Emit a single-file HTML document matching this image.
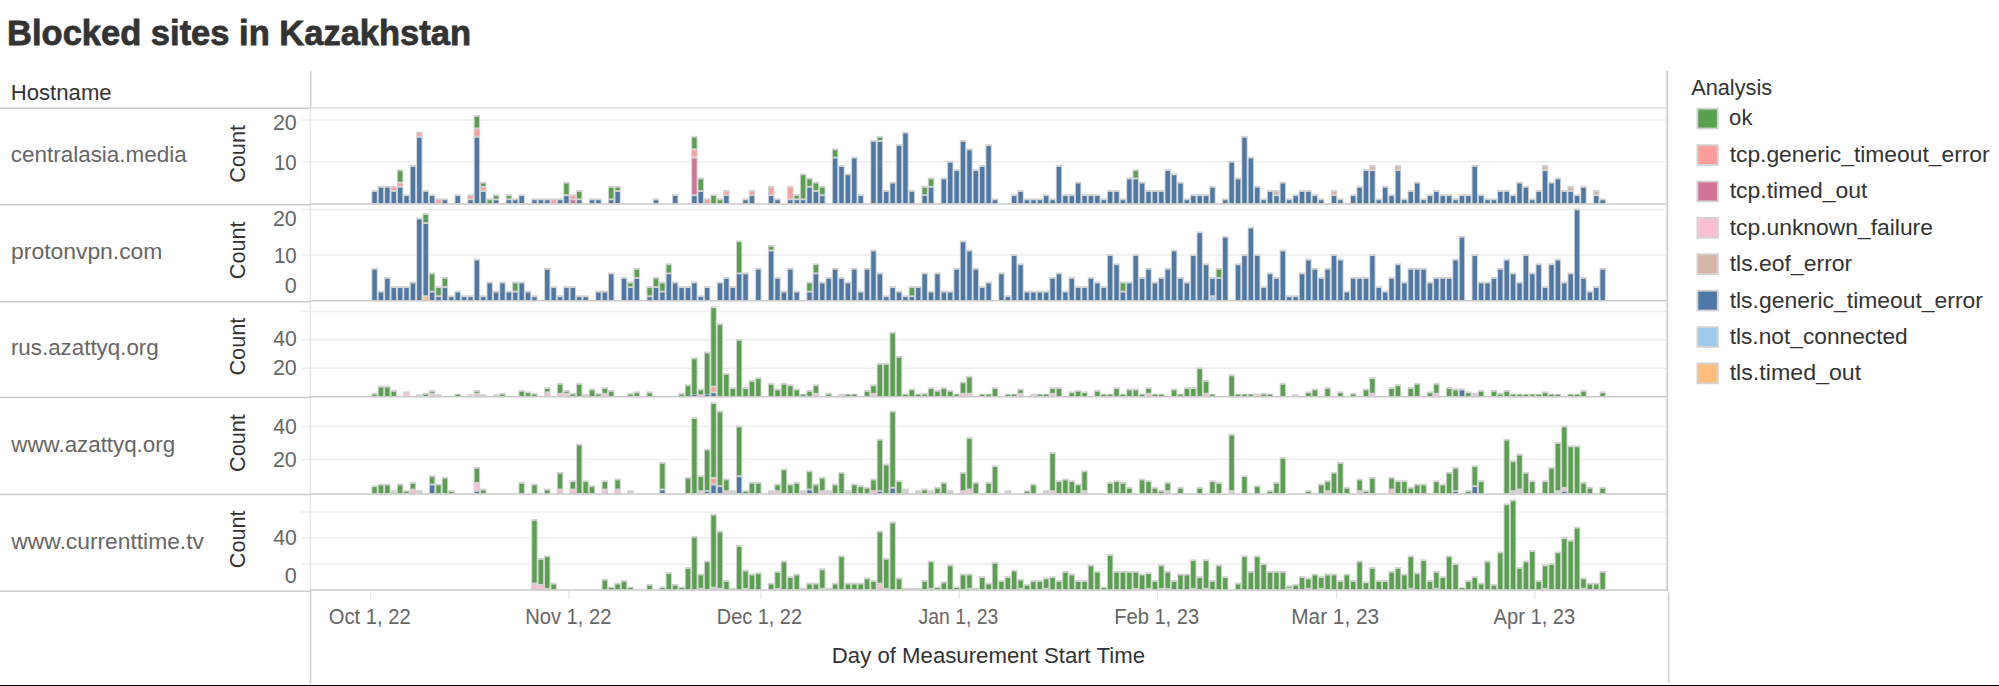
<!DOCTYPE html>
<html><head><meta charset="utf-8"><title>Blocked sites in Kazakhstan</title>
<style>
html,body{margin:0;padding:0;background:#fff;}
body{width:1999px;height:686px;overflow:hidden;font-family:"Liberation Sans",sans-serif;}
svg{display:block;}
</style></head><body>
<svg width="1999" height="686" viewBox="0 0 1999 686">
<rect x="0" y="0" width="1999" height="686" fill="#ffffff"/>
<text x="7.11" y="45.30" font-family="Liberation Sans, sans-serif" font-weight="bold" font-size="35" fill="#333333" textLength="463.90" lengthAdjust="spacingAndGlyphs" stroke="#333333" stroke-width="0.8">Blocked sites in Kazakhstan</text>
<text x="10.73" y="100.20" font-family="Liberation Sans, sans-serif" font-size="22" fill="#333333" textLength="100.93" lengthAdjust="spacingAndGlyphs">Hostname</text>
<line x1="301" y1="161.80" x2="1666.5" y2="161.80" stroke="#eeeeee" stroke-width="1.5"/>
<line x1="301" y1="120.10" x2="1666.5" y2="120.10" stroke="#eeeeee" stroke-width="1.5"/>
<line x1="301" y1="255.10" x2="1666.5" y2="255.10" stroke="#eeeeee" stroke-width="1.5"/>
<line x1="301" y1="209.40" x2="1666.5" y2="209.40" stroke="#eeeeee" stroke-width="1.5"/>
<line x1="301" y1="368.20" x2="1666.5" y2="368.20" stroke="#eeeeee" stroke-width="1.5"/>
<line x1="301" y1="339.80" x2="1666.5" y2="339.80" stroke="#eeeeee" stroke-width="1.5"/>
<line x1="301" y1="311.40" x2="1666.5" y2="311.40" stroke="#eeeeee" stroke-width="1.5"/>
<line x1="301" y1="459.60" x2="1666.5" y2="459.60" stroke="#eeeeee" stroke-width="1.5"/>
<line x1="301" y1="426.40" x2="1666.5" y2="426.40" stroke="#eeeeee" stroke-width="1.5"/>
<line x1="301" y1="564.10" x2="1666.5" y2="564.10" stroke="#eeeeee" stroke-width="1.5"/>
<line x1="301" y1="538.10" x2="1666.5" y2="538.10" stroke="#eeeeee" stroke-width="1.5"/>
<line x1="301" y1="512.10" x2="1666.5" y2="512.10" stroke="#eeeeee" stroke-width="1.5"/>
<rect x="371.35" y="190.04" width="6.40" height="13.86" fill="#d2d2d2"/>
<rect x="372.35" y="191.94" width="4.40" height="11.21" fill="#4E79A7"/>
<rect x="377.75" y="185.87" width="6.40" height="18.03" fill="#d2d2d2"/>
<rect x="378.75" y="187.77" width="4.40" height="15.38" fill="#4E79A7"/>
<rect x="384.14" y="185.87" width="6.40" height="18.03" fill="#d2d2d2"/>
<rect x="385.14" y="187.77" width="4.40" height="15.38" fill="#4E79A7"/>
<rect x="390.54" y="185.87" width="6.40" height="18.03" fill="#d2d2d2"/>
<rect x="391.54" y="191.94" width="4.40" height="11.21" fill="#4E79A7"/>
<rect x="391.54" y="187.77" width="4.40" height="2.27" fill="#FF9D9A"/>
<rect x="396.94" y="169.19" width="6.40" height="34.71" fill="#d2d2d2"/>
<rect x="397.94" y="187.77" width="4.40" height="15.38" fill="#4E79A7"/>
<rect x="397.94" y="183.60" width="4.40" height="2.27" fill="#FF9D9A"/>
<rect x="397.94" y="171.09" width="4.40" height="10.61" fill="#59A14F"/>
<rect x="403.33" y="194.21" width="6.40" height="9.69" fill="#d2d2d2"/>
<rect x="404.33" y="196.11" width="4.40" height="7.04" fill="#4E79A7"/>
<rect x="409.73" y="165.02" width="6.40" height="38.88" fill="#d2d2d2"/>
<rect x="410.73" y="166.92" width="4.40" height="36.23" fill="#4E79A7"/>
<rect x="416.12" y="131.66" width="6.40" height="72.24" fill="#d2d2d2"/>
<rect x="417.12" y="137.73" width="4.40" height="65.42" fill="#4E79A7"/>
<rect x="417.12" y="133.56" width="4.40" height="2.27" fill="#FF9D9A"/>
<rect x="422.52" y="190.04" width="6.40" height="13.86" fill="#d2d2d2"/>
<rect x="423.52" y="191.94" width="4.40" height="11.21" fill="#4E79A7"/>
<rect x="428.92" y="194.21" width="6.40" height="9.69" fill="#d2d2d2"/>
<rect x="429.92" y="196.11" width="4.40" height="7.04" fill="#4E79A7"/>
<rect x="435.31" y="198.38" width="6.40" height="5.52" fill="#d2d2d2"/>
<rect x="436.31" y="200.28" width="4.40" height="2.87" fill="#FF9D9A"/>
<rect x="441.71" y="198.38" width="6.40" height="5.52" fill="#d2d2d2"/>
<rect x="442.71" y="200.28" width="4.40" height="2.87" fill="#4E79A7"/>
<rect x="454.50" y="194.21" width="6.40" height="9.69" fill="#d2d2d2"/>
<rect x="455.50" y="196.11" width="4.40" height="7.04" fill="#4E79A7"/>
<rect x="467.30" y="194.21" width="6.40" height="9.69" fill="#d2d2d2"/>
<rect x="468.30" y="200.28" width="4.40" height="2.87" fill="#4E79A7"/>
<rect x="468.30" y="196.11" width="4.40" height="2.27" fill="#FF9D9A"/>
<rect x="473.69" y="114.98" width="6.40" height="88.92" fill="#d2d2d2"/>
<rect x="474.69" y="137.73" width="4.40" height="65.42" fill="#4E79A7"/>
<rect x="474.69" y="129.39" width="4.40" height="6.44" fill="#FF9D9A"/>
<rect x="474.69" y="116.88" width="4.40" height="10.61" fill="#59A14F"/>
<rect x="480.09" y="181.70" width="6.40" height="22.20" fill="#d2d2d2"/>
<rect x="481.09" y="191.94" width="4.40" height="11.21" fill="#4E79A7"/>
<rect x="481.09" y="187.77" width="4.40" height="2.27" fill="#FF9D9A"/>
<rect x="481.09" y="183.60" width="4.40" height="2.27" fill="#59A14F"/>
<rect x="486.49" y="198.38" width="6.40" height="5.52" fill="#d2d2d2"/>
<rect x="487.49" y="200.28" width="4.40" height="2.87" fill="#59A14F"/>
<rect x="492.88" y="194.21" width="6.40" height="9.69" fill="#d2d2d2"/>
<rect x="493.88" y="200.28" width="4.40" height="2.87" fill="#4E79A7"/>
<rect x="493.88" y="196.11" width="4.40" height="2.27" fill="#59A14F"/>
<rect x="505.67" y="194.21" width="6.40" height="9.69" fill="#d2d2d2"/>
<rect x="506.67" y="200.28" width="4.40" height="2.87" fill="#4E79A7"/>
<rect x="506.67" y="196.11" width="4.40" height="2.27" fill="#59A14F"/>
<rect x="512.07" y="198.38" width="6.40" height="5.52" fill="#d2d2d2"/>
<rect x="513.07" y="200.28" width="4.40" height="2.87" fill="#4E79A7"/>
<rect x="518.47" y="194.21" width="6.40" height="9.69" fill="#d2d2d2"/>
<rect x="519.47" y="196.11" width="4.40" height="7.04" fill="#4E79A7"/>
<rect x="531.26" y="198.38" width="6.40" height="5.52" fill="#d2d2d2"/>
<rect x="532.26" y="200.28" width="4.40" height="2.87" fill="#4E79A7"/>
<rect x="537.66" y="198.38" width="6.40" height="5.52" fill="#d2d2d2"/>
<rect x="538.66" y="200.28" width="4.40" height="2.87" fill="#4E79A7"/>
<rect x="544.05" y="198.38" width="6.40" height="5.52" fill="#d2d2d2"/>
<rect x="545.05" y="200.28" width="4.40" height="2.87" fill="#4E79A7"/>
<rect x="550.45" y="198.38" width="6.40" height="5.52" fill="#d2d2d2"/>
<rect x="551.45" y="200.28" width="4.40" height="2.87" fill="#FF9D9A"/>
<rect x="556.85" y="198.38" width="6.40" height="5.52" fill="#d2d2d2"/>
<rect x="557.85" y="200.28" width="4.40" height="2.87" fill="#4E79A7"/>
<rect x="563.24" y="181.70" width="6.40" height="22.20" fill="#d2d2d2"/>
<rect x="564.24" y="196.11" width="4.40" height="7.04" fill="#4E79A7"/>
<rect x="564.24" y="183.60" width="4.40" height="10.61" fill="#59A14F"/>
<rect x="569.64" y="194.21" width="6.40" height="9.69" fill="#d2d2d2"/>
<rect x="570.64" y="200.28" width="4.40" height="2.87" fill="#D37295"/>
<rect x="570.64" y="196.11" width="4.40" height="2.27" fill="#FF9D9A"/>
<rect x="576.03" y="190.04" width="6.40" height="13.86" fill="#d2d2d2"/>
<rect x="577.03" y="200.28" width="4.40" height="2.87" fill="#4E79A7"/>
<rect x="577.03" y="191.94" width="4.40" height="6.44" fill="#59A14F"/>
<rect x="588.83" y="198.38" width="6.40" height="5.52" fill="#d2d2d2"/>
<rect x="589.83" y="200.28" width="4.40" height="2.87" fill="#4E79A7"/>
<rect x="595.22" y="198.38" width="6.40" height="5.52" fill="#d2d2d2"/>
<rect x="596.22" y="200.28" width="4.40" height="2.87" fill="#4E79A7"/>
<rect x="608.02" y="185.87" width="6.40" height="18.03" fill="#d2d2d2"/>
<rect x="609.02" y="200.28" width="4.40" height="2.87" fill="#4E79A7"/>
<rect x="609.02" y="187.77" width="4.40" height="10.61" fill="#59A14F"/>
<rect x="614.41" y="185.87" width="6.40" height="18.03" fill="#d2d2d2"/>
<rect x="615.41" y="191.94" width="4.40" height="11.21" fill="#4E79A7"/>
<rect x="615.41" y="187.77" width="4.40" height="2.27" fill="#59A14F"/>
<rect x="652.79" y="198.38" width="6.40" height="5.52" fill="#d2d2d2"/>
<rect x="653.79" y="200.28" width="4.40" height="2.87" fill="#4E79A7"/>
<rect x="671.98" y="194.21" width="6.40" height="9.69" fill="#d2d2d2"/>
<rect x="672.98" y="196.11" width="4.40" height="7.04" fill="#4E79A7"/>
<rect x="691.17" y="135.83" width="6.40" height="68.07" fill="#d2d2d2"/>
<rect x="692.17" y="196.11" width="4.40" height="7.04" fill="#4E79A7"/>
<rect x="692.17" y="158.58" width="4.40" height="35.63" fill="#D37295"/>
<rect x="692.17" y="150.24" width="4.40" height="6.44" fill="#FF9D9A"/>
<rect x="692.17" y="137.73" width="4.40" height="10.61" fill="#59A14F"/>
<rect x="697.57" y="177.53" width="6.40" height="26.37" fill="#d2d2d2"/>
<rect x="698.57" y="191.94" width="4.40" height="11.21" fill="#4E79A7"/>
<rect x="698.57" y="179.43" width="4.40" height="10.61" fill="#59A14F"/>
<rect x="703.96" y="198.38" width="6.40" height="5.52" fill="#d2d2d2"/>
<rect x="704.96" y="200.28" width="4.40" height="2.87" fill="#FF9D9A"/>
<rect x="710.36" y="194.21" width="6.40" height="9.69" fill="#d2d2d2"/>
<rect x="711.36" y="196.11" width="4.40" height="7.04" fill="#59A14F"/>
<rect x="716.76" y="198.38" width="6.40" height="5.52" fill="#d2d2d2"/>
<rect x="717.76" y="200.28" width="4.40" height="2.87" fill="#59A14F"/>
<rect x="723.15" y="190.04" width="6.40" height="13.86" fill="#d2d2d2"/>
<rect x="724.15" y="196.11" width="4.40" height="7.04" fill="#4E79A7"/>
<rect x="724.15" y="191.94" width="4.40" height="2.27" fill="#FF9D9A"/>
<rect x="742.34" y="198.38" width="6.40" height="5.52" fill="#d2d2d2"/>
<rect x="743.34" y="200.28" width="4.40" height="2.87" fill="#4E79A7"/>
<rect x="748.74" y="190.04" width="6.40" height="13.86" fill="#d2d2d2"/>
<rect x="749.74" y="196.11" width="4.40" height="7.04" fill="#4E79A7"/>
<rect x="749.74" y="191.94" width="4.40" height="2.27" fill="#FF9D9A"/>
<rect x="767.93" y="185.87" width="6.40" height="18.03" fill="#d2d2d2"/>
<rect x="768.93" y="196.11" width="4.40" height="7.04" fill="#4E79A7"/>
<rect x="768.93" y="187.77" width="4.40" height="6.44" fill="#FF9D9A"/>
<rect x="774.32" y="198.38" width="6.40" height="5.52" fill="#d2d2d2"/>
<rect x="775.32" y="200.28" width="4.40" height="2.87" fill="#4E79A7"/>
<rect x="787.12" y="185.87" width="6.40" height="18.03" fill="#d2d2d2"/>
<rect x="788.12" y="200.28" width="4.40" height="2.87" fill="#4E79A7"/>
<rect x="788.12" y="187.77" width="4.40" height="10.61" fill="#FF9D9A"/>
<rect x="793.51" y="194.21" width="6.40" height="9.69" fill="#d2d2d2"/>
<rect x="794.51" y="200.28" width="4.40" height="2.87" fill="#4E79A7"/>
<rect x="794.51" y="196.11" width="4.40" height="2.27" fill="#59A14F"/>
<rect x="799.91" y="173.36" width="6.40" height="30.54" fill="#d2d2d2"/>
<rect x="800.91" y="200.28" width="4.40" height="2.87" fill="#4E79A7"/>
<rect x="800.91" y="175.26" width="4.40" height="23.12" fill="#59A14F"/>
<rect x="806.31" y="177.53" width="6.40" height="26.37" fill="#d2d2d2"/>
<rect x="807.31" y="187.77" width="4.40" height="15.38" fill="#4E79A7"/>
<rect x="807.31" y="179.43" width="4.40" height="6.44" fill="#59A14F"/>
<rect x="812.70" y="181.70" width="6.40" height="22.20" fill="#d2d2d2"/>
<rect x="813.70" y="191.94" width="4.40" height="11.21" fill="#4E79A7"/>
<rect x="813.70" y="183.60" width="4.40" height="6.44" fill="#59A14F"/>
<rect x="819.10" y="185.87" width="6.40" height="18.03" fill="#d2d2d2"/>
<rect x="820.10" y="196.11" width="4.40" height="7.04" fill="#4E79A7"/>
<rect x="820.10" y="187.77" width="4.40" height="6.44" fill="#59A14F"/>
<rect x="831.89" y="148.34" width="6.40" height="55.56" fill="#d2d2d2"/>
<rect x="832.89" y="158.58" width="4.40" height="44.57" fill="#4E79A7"/>
<rect x="832.89" y="150.24" width="4.40" height="6.44" fill="#59A14F"/>
<rect x="838.29" y="165.02" width="6.40" height="38.88" fill="#d2d2d2"/>
<rect x="839.29" y="166.92" width="4.40" height="36.23" fill="#4E79A7"/>
<rect x="844.68" y="173.36" width="6.40" height="30.54" fill="#d2d2d2"/>
<rect x="845.68" y="175.26" width="4.40" height="27.89" fill="#4E79A7"/>
<rect x="851.08" y="156.68" width="6.40" height="47.22" fill="#d2d2d2"/>
<rect x="852.08" y="158.58" width="4.40" height="44.57" fill="#4E79A7"/>
<rect x="857.48" y="194.21" width="6.40" height="9.69" fill="#d2d2d2"/>
<rect x="858.48" y="196.11" width="4.40" height="7.04" fill="#4E79A7"/>
<rect x="870.27" y="140.00" width="6.40" height="63.90" fill="#d2d2d2"/>
<rect x="871.27" y="141.90" width="4.40" height="61.25" fill="#4E79A7"/>
<rect x="876.67" y="135.83" width="6.40" height="68.07" fill="#d2d2d2"/>
<rect x="877.67" y="141.90" width="4.40" height="61.25" fill="#4E79A7"/>
<rect x="877.67" y="137.73" width="4.40" height="2.27" fill="#59A14F"/>
<rect x="883.06" y="190.04" width="6.40" height="13.86" fill="#d2d2d2"/>
<rect x="884.06" y="191.94" width="4.40" height="11.21" fill="#4E79A7"/>
<rect x="889.46" y="181.70" width="6.40" height="22.20" fill="#d2d2d2"/>
<rect x="890.46" y="183.60" width="4.40" height="19.55" fill="#4E79A7"/>
<rect x="895.85" y="144.17" width="6.40" height="59.73" fill="#d2d2d2"/>
<rect x="896.85" y="146.07" width="4.40" height="57.08" fill="#4E79A7"/>
<rect x="902.25" y="131.66" width="6.40" height="72.24" fill="#d2d2d2"/>
<rect x="903.25" y="133.56" width="4.40" height="69.59" fill="#4E79A7"/>
<rect x="908.65" y="190.04" width="6.40" height="13.86" fill="#d2d2d2"/>
<rect x="909.65" y="191.94" width="4.40" height="11.21" fill="#4E79A7"/>
<rect x="921.44" y="185.87" width="6.40" height="18.03" fill="#d2d2d2"/>
<rect x="922.44" y="196.11" width="4.40" height="7.04" fill="#4E79A7"/>
<rect x="922.44" y="187.77" width="4.40" height="6.44" fill="#59A14F"/>
<rect x="927.84" y="177.53" width="6.40" height="26.37" fill="#d2d2d2"/>
<rect x="928.84" y="187.77" width="4.40" height="15.38" fill="#4E79A7"/>
<rect x="928.84" y="179.43" width="4.40" height="6.44" fill="#59A14F"/>
<rect x="940.63" y="177.53" width="6.40" height="26.37" fill="#d2d2d2"/>
<rect x="941.63" y="179.43" width="4.40" height="23.72" fill="#4E79A7"/>
<rect x="947.03" y="160.85" width="6.40" height="43.05" fill="#d2d2d2"/>
<rect x="948.03" y="162.75" width="4.40" height="40.40" fill="#4E79A7"/>
<rect x="953.42" y="169.19" width="6.40" height="34.71" fill="#d2d2d2"/>
<rect x="954.42" y="171.09" width="4.40" height="32.06" fill="#4E79A7"/>
<rect x="959.82" y="140.00" width="6.40" height="63.90" fill="#d2d2d2"/>
<rect x="960.82" y="141.90" width="4.40" height="61.25" fill="#4E79A7"/>
<rect x="966.22" y="148.34" width="6.40" height="55.56" fill="#d2d2d2"/>
<rect x="967.22" y="150.24" width="4.40" height="52.91" fill="#4E79A7"/>
<rect x="972.61" y="169.19" width="6.40" height="34.71" fill="#d2d2d2"/>
<rect x="973.61" y="171.09" width="4.40" height="32.06" fill="#4E79A7"/>
<rect x="979.01" y="165.02" width="6.40" height="38.88" fill="#d2d2d2"/>
<rect x="980.01" y="166.92" width="4.40" height="36.23" fill="#4E79A7"/>
<rect x="985.40" y="144.17" width="6.40" height="59.73" fill="#d2d2d2"/>
<rect x="986.40" y="146.07" width="4.40" height="57.08" fill="#4E79A7"/>
<rect x="991.80" y="198.38" width="6.40" height="5.52" fill="#d2d2d2"/>
<rect x="992.80" y="200.28" width="4.40" height="2.87" fill="#4E79A7"/>
<rect x="1010.99" y="194.21" width="6.40" height="9.69" fill="#d2d2d2"/>
<rect x="1011.99" y="196.11" width="4.40" height="7.04" fill="#4E79A7"/>
<rect x="1017.39" y="190.04" width="6.40" height="13.86" fill="#d2d2d2"/>
<rect x="1018.39" y="191.94" width="4.40" height="11.21" fill="#4E79A7"/>
<rect x="1023.78" y="198.38" width="6.40" height="5.52" fill="#d2d2d2"/>
<rect x="1024.78" y="200.28" width="4.40" height="2.87" fill="#4E79A7"/>
<rect x="1030.18" y="198.38" width="6.40" height="5.52" fill="#d2d2d2"/>
<rect x="1031.18" y="200.28" width="4.40" height="2.87" fill="#4E79A7"/>
<rect x="1036.58" y="198.38" width="6.40" height="5.52" fill="#d2d2d2"/>
<rect x="1037.58" y="200.28" width="4.40" height="2.87" fill="#4E79A7"/>
<rect x="1042.97" y="194.21" width="6.40" height="9.69" fill="#d2d2d2"/>
<rect x="1043.97" y="196.11" width="4.40" height="7.04" fill="#4E79A7"/>
<rect x="1049.37" y="198.38" width="6.40" height="5.52" fill="#d2d2d2"/>
<rect x="1050.37" y="200.28" width="4.40" height="2.87" fill="#4E79A7"/>
<rect x="1055.76" y="165.02" width="6.40" height="38.88" fill="#d2d2d2"/>
<rect x="1056.76" y="166.92" width="4.40" height="36.23" fill="#4E79A7"/>
<rect x="1062.16" y="194.21" width="6.40" height="9.69" fill="#d2d2d2"/>
<rect x="1063.16" y="196.11" width="4.40" height="7.04" fill="#4E79A7"/>
<rect x="1068.56" y="194.21" width="6.40" height="9.69" fill="#d2d2d2"/>
<rect x="1069.56" y="196.11" width="4.40" height="7.04" fill="#4E79A7"/>
<rect x="1074.95" y="181.70" width="6.40" height="22.20" fill="#d2d2d2"/>
<rect x="1075.95" y="183.60" width="4.40" height="19.55" fill="#4E79A7"/>
<rect x="1081.35" y="194.21" width="6.40" height="9.69" fill="#d2d2d2"/>
<rect x="1082.35" y="196.11" width="4.40" height="7.04" fill="#4E79A7"/>
<rect x="1087.75" y="194.21" width="6.40" height="9.69" fill="#d2d2d2"/>
<rect x="1088.75" y="196.11" width="4.40" height="7.04" fill="#4E79A7"/>
<rect x="1094.14" y="194.21" width="6.40" height="9.69" fill="#d2d2d2"/>
<rect x="1095.14" y="196.11" width="4.40" height="7.04" fill="#4E79A7"/>
<rect x="1100.54" y="198.38" width="6.40" height="5.52" fill="#d2d2d2"/>
<rect x="1101.54" y="200.28" width="4.40" height="2.87" fill="#4E79A7"/>
<rect x="1106.94" y="190.04" width="6.40" height="13.86" fill="#d2d2d2"/>
<rect x="1107.94" y="191.94" width="4.40" height="11.21" fill="#4E79A7"/>
<rect x="1113.33" y="190.04" width="6.40" height="13.86" fill="#d2d2d2"/>
<rect x="1114.33" y="191.94" width="4.40" height="11.21" fill="#4E79A7"/>
<rect x="1119.73" y="198.38" width="6.40" height="5.52" fill="#d2d2d2"/>
<rect x="1120.73" y="200.28" width="4.40" height="2.87" fill="#4E79A7"/>
<rect x="1126.13" y="177.53" width="6.40" height="26.37" fill="#d2d2d2"/>
<rect x="1127.13" y="179.43" width="4.40" height="23.72" fill="#4E79A7"/>
<rect x="1132.52" y="169.19" width="6.40" height="34.71" fill="#d2d2d2"/>
<rect x="1133.52" y="179.43" width="4.40" height="23.72" fill="#4E79A7"/>
<rect x="1133.52" y="171.09" width="4.40" height="6.44" fill="#59A14F"/>
<rect x="1138.92" y="181.70" width="6.40" height="22.20" fill="#d2d2d2"/>
<rect x="1139.92" y="183.60" width="4.40" height="19.55" fill="#4E79A7"/>
<rect x="1145.31" y="190.04" width="6.40" height="13.86" fill="#d2d2d2"/>
<rect x="1146.31" y="191.94" width="4.40" height="11.21" fill="#4E79A7"/>
<rect x="1151.71" y="190.04" width="6.40" height="13.86" fill="#d2d2d2"/>
<rect x="1152.71" y="191.94" width="4.40" height="11.21" fill="#4E79A7"/>
<rect x="1158.11" y="190.04" width="6.40" height="13.86" fill="#d2d2d2"/>
<rect x="1159.11" y="191.94" width="4.40" height="11.21" fill="#4E79A7"/>
<rect x="1164.50" y="169.19" width="6.40" height="34.71" fill="#d2d2d2"/>
<rect x="1165.50" y="171.09" width="4.40" height="32.06" fill="#4E79A7"/>
<rect x="1170.90" y="173.36" width="6.40" height="30.54" fill="#d2d2d2"/>
<rect x="1171.90" y="175.26" width="4.40" height="27.89" fill="#4E79A7"/>
<rect x="1177.30" y="181.70" width="6.40" height="22.20" fill="#d2d2d2"/>
<rect x="1178.30" y="183.60" width="4.40" height="19.55" fill="#4E79A7"/>
<rect x="1183.69" y="198.38" width="6.40" height="5.52" fill="#d2d2d2"/>
<rect x="1184.69" y="200.28" width="4.40" height="2.87" fill="#4E79A7"/>
<rect x="1190.09" y="194.21" width="6.40" height="9.69" fill="#d2d2d2"/>
<rect x="1191.09" y="196.11" width="4.40" height="7.04" fill="#4E79A7"/>
<rect x="1196.49" y="194.21" width="6.40" height="9.69" fill="#d2d2d2"/>
<rect x="1197.49" y="196.11" width="4.40" height="7.04" fill="#4E79A7"/>
<rect x="1202.88" y="194.21" width="6.40" height="9.69" fill="#d2d2d2"/>
<rect x="1203.88" y="196.11" width="4.40" height="7.04" fill="#4E79A7"/>
<rect x="1209.28" y="185.87" width="6.40" height="18.03" fill="#d2d2d2"/>
<rect x="1210.28" y="187.77" width="4.40" height="15.38" fill="#4E79A7"/>
<rect x="1222.07" y="198.38" width="6.40" height="5.52" fill="#d2d2d2"/>
<rect x="1223.07" y="200.28" width="4.40" height="2.87" fill="#4E79A7"/>
<rect x="1228.47" y="160.85" width="6.40" height="43.05" fill="#d2d2d2"/>
<rect x="1229.47" y="162.75" width="4.40" height="40.40" fill="#4E79A7"/>
<rect x="1234.86" y="177.53" width="6.40" height="26.37" fill="#d2d2d2"/>
<rect x="1235.86" y="179.43" width="4.40" height="23.72" fill="#4E79A7"/>
<rect x="1241.26" y="135.83" width="6.40" height="68.07" fill="#d2d2d2"/>
<rect x="1242.26" y="137.73" width="4.40" height="65.42" fill="#4E79A7"/>
<rect x="1247.66" y="156.68" width="6.40" height="47.22" fill="#d2d2d2"/>
<rect x="1248.66" y="158.58" width="4.40" height="44.57" fill="#4E79A7"/>
<rect x="1254.05" y="185.87" width="6.40" height="18.03" fill="#d2d2d2"/>
<rect x="1255.05" y="187.77" width="4.40" height="15.38" fill="#4E79A7"/>
<rect x="1260.45" y="198.38" width="6.40" height="5.52" fill="#d2d2d2"/>
<rect x="1261.45" y="200.28" width="4.40" height="2.87" fill="#4E79A7"/>
<rect x="1266.85" y="190.04" width="6.40" height="13.86" fill="#d2d2d2"/>
<rect x="1267.85" y="191.94" width="4.40" height="11.21" fill="#4E79A7"/>
<rect x="1273.24" y="190.04" width="6.40" height="13.86" fill="#d2d2d2"/>
<rect x="1274.24" y="196.11" width="4.40" height="7.04" fill="#4E79A7"/>
<rect x="1274.24" y="191.94" width="4.40" height="2.27" fill="#D7B5A6"/>
<rect x="1279.64" y="181.70" width="6.40" height="22.20" fill="#d2d2d2"/>
<rect x="1280.64" y="183.60" width="4.40" height="19.55" fill="#4E79A7"/>
<rect x="1286.04" y="198.38" width="6.40" height="5.52" fill="#d2d2d2"/>
<rect x="1287.04" y="200.28" width="4.40" height="2.87" fill="#4E79A7"/>
<rect x="1292.43" y="194.21" width="6.40" height="9.69" fill="#d2d2d2"/>
<rect x="1293.43" y="196.11" width="4.40" height="7.04" fill="#4E79A7"/>
<rect x="1298.83" y="190.04" width="6.40" height="13.86" fill="#d2d2d2"/>
<rect x="1299.83" y="191.94" width="4.40" height="11.21" fill="#4E79A7"/>
<rect x="1305.22" y="190.04" width="6.40" height="13.86" fill="#d2d2d2"/>
<rect x="1306.22" y="191.94" width="4.40" height="11.21" fill="#4E79A7"/>
<rect x="1311.62" y="194.21" width="6.40" height="9.69" fill="#d2d2d2"/>
<rect x="1312.62" y="196.11" width="4.40" height="7.04" fill="#4E79A7"/>
<rect x="1318.02" y="198.38" width="6.40" height="5.52" fill="#d2d2d2"/>
<rect x="1319.02" y="200.28" width="4.40" height="2.87" fill="#4E79A7"/>
<rect x="1330.81" y="190.04" width="6.40" height="13.86" fill="#d2d2d2"/>
<rect x="1331.81" y="196.11" width="4.40" height="7.04" fill="#4E79A7"/>
<rect x="1331.81" y="191.94" width="4.40" height="2.27" fill="#D7B5A6"/>
<rect x="1337.21" y="198.38" width="6.40" height="5.52" fill="#d2d2d2"/>
<rect x="1338.21" y="200.28" width="4.40" height="2.87" fill="#4E79A7"/>
<rect x="1350.00" y="194.21" width="6.40" height="9.69" fill="#d2d2d2"/>
<rect x="1351.00" y="196.11" width="4.40" height="7.04" fill="#4E79A7"/>
<rect x="1356.40" y="185.87" width="6.40" height="18.03" fill="#d2d2d2"/>
<rect x="1357.40" y="187.77" width="4.40" height="15.38" fill="#4E79A7"/>
<rect x="1362.79" y="169.19" width="6.40" height="34.71" fill="#d2d2d2"/>
<rect x="1363.79" y="171.09" width="4.40" height="32.06" fill="#4E79A7"/>
<rect x="1369.19" y="165.02" width="6.40" height="38.88" fill="#d2d2d2"/>
<rect x="1370.19" y="171.09" width="4.40" height="32.06" fill="#4E79A7"/>
<rect x="1370.19" y="166.92" width="4.40" height="2.27" fill="#D7B5A6"/>
<rect x="1375.58" y="198.38" width="6.40" height="5.52" fill="#d2d2d2"/>
<rect x="1376.58" y="200.28" width="4.40" height="2.87" fill="#4E79A7"/>
<rect x="1381.98" y="185.87" width="6.40" height="18.03" fill="#d2d2d2"/>
<rect x="1382.98" y="187.77" width="4.40" height="15.38" fill="#4E79A7"/>
<rect x="1388.38" y="194.21" width="6.40" height="9.69" fill="#d2d2d2"/>
<rect x="1389.38" y="196.11" width="4.40" height="7.04" fill="#4E79A7"/>
<rect x="1394.77" y="165.02" width="6.40" height="38.88" fill="#d2d2d2"/>
<rect x="1395.77" y="171.09" width="4.40" height="32.06" fill="#4E79A7"/>
<rect x="1395.77" y="166.92" width="4.40" height="2.27" fill="#D7B5A6"/>
<rect x="1401.17" y="198.38" width="6.40" height="5.52" fill="#d2d2d2"/>
<rect x="1402.17" y="200.28" width="4.40" height="2.87" fill="#4E79A7"/>
<rect x="1407.57" y="190.04" width="6.40" height="13.86" fill="#d2d2d2"/>
<rect x="1408.57" y="191.94" width="4.40" height="11.21" fill="#4E79A7"/>
<rect x="1413.96" y="181.70" width="6.40" height="22.20" fill="#d2d2d2"/>
<rect x="1414.96" y="183.60" width="4.40" height="19.55" fill="#4E79A7"/>
<rect x="1420.36" y="198.38" width="6.40" height="5.52" fill="#d2d2d2"/>
<rect x="1421.36" y="200.28" width="4.40" height="2.87" fill="#4E79A7"/>
<rect x="1426.76" y="194.21" width="6.40" height="9.69" fill="#d2d2d2"/>
<rect x="1427.76" y="196.11" width="4.40" height="7.04" fill="#4E79A7"/>
<rect x="1433.15" y="190.04" width="6.40" height="13.86" fill="#d2d2d2"/>
<rect x="1434.15" y="191.94" width="4.40" height="11.21" fill="#4E79A7"/>
<rect x="1439.55" y="194.21" width="6.40" height="9.69" fill="#d2d2d2"/>
<rect x="1440.55" y="196.11" width="4.40" height="7.04" fill="#4E79A7"/>
<rect x="1445.95" y="194.21" width="6.40" height="9.69" fill="#d2d2d2"/>
<rect x="1446.95" y="196.11" width="4.40" height="7.04" fill="#4E79A7"/>
<rect x="1452.34" y="198.38" width="6.40" height="5.52" fill="#d2d2d2"/>
<rect x="1453.34" y="200.28" width="4.40" height="2.87" fill="#4E79A7"/>
<rect x="1458.74" y="194.21" width="6.40" height="9.69" fill="#d2d2d2"/>
<rect x="1459.74" y="196.11" width="4.40" height="7.04" fill="#4E79A7"/>
<rect x="1465.13" y="194.21" width="6.40" height="9.69" fill="#d2d2d2"/>
<rect x="1466.13" y="196.11" width="4.40" height="7.04" fill="#4E79A7"/>
<rect x="1471.53" y="165.02" width="6.40" height="38.88" fill="#d2d2d2"/>
<rect x="1472.53" y="166.92" width="4.40" height="36.23" fill="#4E79A7"/>
<rect x="1477.93" y="194.21" width="6.40" height="9.69" fill="#d2d2d2"/>
<rect x="1478.93" y="196.11" width="4.40" height="7.04" fill="#4E79A7"/>
<rect x="1484.32" y="198.38" width="6.40" height="5.52" fill="#d2d2d2"/>
<rect x="1485.32" y="200.28" width="4.40" height="2.87" fill="#4E79A7"/>
<rect x="1490.72" y="198.38" width="6.40" height="5.52" fill="#d2d2d2"/>
<rect x="1491.72" y="200.28" width="4.40" height="2.87" fill="#4E79A7"/>
<rect x="1497.12" y="190.04" width="6.40" height="13.86" fill="#d2d2d2"/>
<rect x="1498.12" y="191.94" width="4.40" height="11.21" fill="#4E79A7"/>
<rect x="1503.51" y="190.04" width="6.40" height="13.86" fill="#d2d2d2"/>
<rect x="1504.51" y="191.94" width="4.40" height="11.21" fill="#4E79A7"/>
<rect x="1509.91" y="194.21" width="6.40" height="9.69" fill="#d2d2d2"/>
<rect x="1510.91" y="196.11" width="4.40" height="7.04" fill="#4E79A7"/>
<rect x="1516.31" y="181.70" width="6.40" height="22.20" fill="#d2d2d2"/>
<rect x="1517.31" y="183.60" width="4.40" height="19.55" fill="#4E79A7"/>
<rect x="1522.70" y="185.87" width="6.40" height="18.03" fill="#d2d2d2"/>
<rect x="1523.70" y="187.77" width="4.40" height="15.38" fill="#4E79A7"/>
<rect x="1529.10" y="198.38" width="6.40" height="5.52" fill="#d2d2d2"/>
<rect x="1530.10" y="200.28" width="4.40" height="2.87" fill="#4E79A7"/>
<rect x="1535.49" y="190.04" width="6.40" height="13.86" fill="#d2d2d2"/>
<rect x="1536.49" y="191.94" width="4.40" height="11.21" fill="#4E79A7"/>
<rect x="1541.89" y="165.02" width="6.40" height="38.88" fill="#d2d2d2"/>
<rect x="1542.89" y="171.09" width="4.40" height="32.06" fill="#4E79A7"/>
<rect x="1542.89" y="166.92" width="4.40" height="2.27" fill="#D7B5A6"/>
<rect x="1548.29" y="181.70" width="6.40" height="22.20" fill="#d2d2d2"/>
<rect x="1549.29" y="183.60" width="4.40" height="19.55" fill="#4E79A7"/>
<rect x="1554.68" y="177.53" width="6.40" height="26.37" fill="#d2d2d2"/>
<rect x="1555.68" y="179.43" width="4.40" height="23.72" fill="#4E79A7"/>
<rect x="1561.08" y="190.04" width="6.40" height="13.86" fill="#d2d2d2"/>
<rect x="1562.08" y="191.94" width="4.40" height="11.21" fill="#4E79A7"/>
<rect x="1567.48" y="185.87" width="6.40" height="18.03" fill="#d2d2d2"/>
<rect x="1568.48" y="191.94" width="4.40" height="11.21" fill="#4E79A7"/>
<rect x="1568.48" y="187.77" width="4.40" height="2.27" fill="#D7B5A6"/>
<rect x="1573.87" y="194.21" width="6.40" height="9.69" fill="#d2d2d2"/>
<rect x="1574.87" y="196.11" width="4.40" height="7.04" fill="#4E79A7"/>
<rect x="1580.27" y="185.87" width="6.40" height="18.03" fill="#d2d2d2"/>
<rect x="1581.27" y="187.77" width="4.40" height="15.38" fill="#4E79A7"/>
<rect x="1593.06" y="190.04" width="6.40" height="13.86" fill="#d2d2d2"/>
<rect x="1594.06" y="196.11" width="4.40" height="7.04" fill="#4E79A7"/>
<rect x="1594.06" y="191.94" width="4.40" height="2.27" fill="#D7B5A6"/>
<rect x="1599.46" y="198.38" width="6.40" height="5.52" fill="#d2d2d2"/>
<rect x="1600.46" y="200.28" width="4.40" height="2.87" fill="#4E79A7"/>
<rect x="371.35" y="267.86" width="6.40" height="32.94" fill="#d2d2d2"/>
<rect x="372.35" y="269.76" width="4.40" height="30.29" fill="#4E79A7"/>
<rect x="377.75" y="290.71" width="6.40" height="10.09" fill="#d2d2d2"/>
<rect x="378.75" y="292.61" width="4.40" height="7.44" fill="#4E79A7"/>
<rect x="384.14" y="277.00" width="6.40" height="23.80" fill="#d2d2d2"/>
<rect x="385.14" y="278.90" width="4.40" height="21.15" fill="#4E79A7"/>
<rect x="390.54" y="286.14" width="6.40" height="14.66" fill="#d2d2d2"/>
<rect x="391.54" y="288.04" width="4.40" height="12.01" fill="#4E79A7"/>
<rect x="396.94" y="286.14" width="6.40" height="14.66" fill="#d2d2d2"/>
<rect x="397.94" y="288.04" width="4.40" height="12.01" fill="#4E79A7"/>
<rect x="403.33" y="286.14" width="6.40" height="14.66" fill="#d2d2d2"/>
<rect x="404.33" y="288.04" width="4.40" height="12.01" fill="#4E79A7"/>
<rect x="409.73" y="281.57" width="6.40" height="19.23" fill="#d2d2d2"/>
<rect x="410.73" y="283.47" width="4.40" height="16.58" fill="#4E79A7"/>
<rect x="416.12" y="217.59" width="6.40" height="83.21" fill="#d2d2d2"/>
<rect x="417.12" y="219.49" width="4.40" height="80.56" fill="#4E79A7"/>
<rect x="422.52" y="213.02" width="6.40" height="87.78" fill="#d2d2d2"/>
<rect x="423.52" y="297.18" width="4.40" height="2.87" fill="#FFBE7D"/>
<rect x="423.52" y="224.06" width="4.40" height="71.22" fill="#4E79A7"/>
<rect x="423.52" y="214.92" width="4.40" height="7.24" fill="#59A14F"/>
<rect x="428.92" y="272.43" width="6.40" height="28.37" fill="#d2d2d2"/>
<rect x="429.92" y="292.61" width="4.40" height="7.44" fill="#4E79A7"/>
<rect x="429.92" y="274.33" width="4.40" height="16.38" fill="#59A14F"/>
<rect x="435.31" y="286.14" width="6.40" height="14.66" fill="#d2d2d2"/>
<rect x="436.31" y="297.18" width="4.40" height="2.87" fill="#4E79A7"/>
<rect x="436.31" y="288.04" width="4.40" height="7.24" fill="#59A14F"/>
<rect x="441.71" y="277.00" width="6.40" height="23.80" fill="#d2d2d2"/>
<rect x="442.71" y="288.04" width="4.40" height="12.01" fill="#4E79A7"/>
<rect x="442.71" y="278.90" width="4.40" height="7.24" fill="#59A14F"/>
<rect x="448.11" y="295.28" width="6.40" height="5.52" fill="#d2d2d2"/>
<rect x="449.11" y="297.18" width="4.40" height="2.87" fill="#4E79A7"/>
<rect x="454.50" y="290.71" width="6.40" height="10.09" fill="#d2d2d2"/>
<rect x="455.50" y="292.61" width="4.40" height="7.44" fill="#4E79A7"/>
<rect x="460.90" y="295.28" width="6.40" height="5.52" fill="#d2d2d2"/>
<rect x="461.90" y="297.18" width="4.40" height="2.87" fill="#4E79A7"/>
<rect x="467.30" y="295.28" width="6.40" height="5.52" fill="#d2d2d2"/>
<rect x="468.30" y="297.18" width="4.40" height="2.87" fill="#4E79A7"/>
<rect x="473.69" y="258.72" width="6.40" height="42.08" fill="#d2d2d2"/>
<rect x="474.69" y="260.62" width="4.40" height="39.43" fill="#4E79A7"/>
<rect x="480.09" y="295.28" width="6.40" height="5.52" fill="#d2d2d2"/>
<rect x="481.09" y="297.18" width="4.40" height="2.87" fill="#4E79A7"/>
<rect x="486.49" y="281.57" width="6.40" height="19.23" fill="#d2d2d2"/>
<rect x="487.49" y="283.47" width="4.40" height="16.58" fill="#4E79A7"/>
<rect x="492.88" y="290.71" width="6.40" height="10.09" fill="#d2d2d2"/>
<rect x="493.88" y="292.61" width="4.40" height="7.44" fill="#4E79A7"/>
<rect x="499.28" y="281.57" width="6.40" height="19.23" fill="#d2d2d2"/>
<rect x="500.28" y="283.47" width="4.40" height="16.58" fill="#4E79A7"/>
<rect x="505.67" y="290.71" width="6.40" height="10.09" fill="#d2d2d2"/>
<rect x="506.67" y="292.61" width="4.40" height="7.44" fill="#4E79A7"/>
<rect x="512.07" y="281.57" width="6.40" height="19.23" fill="#d2d2d2"/>
<rect x="513.07" y="292.61" width="4.40" height="7.44" fill="#4E79A7"/>
<rect x="513.07" y="283.47" width="4.40" height="7.24" fill="#59A14F"/>
<rect x="518.47" y="281.57" width="6.40" height="19.23" fill="#d2d2d2"/>
<rect x="519.47" y="283.47" width="4.40" height="16.58" fill="#4E79A7"/>
<rect x="524.86" y="290.71" width="6.40" height="10.09" fill="#d2d2d2"/>
<rect x="525.86" y="292.61" width="4.40" height="7.44" fill="#4E79A7"/>
<rect x="531.26" y="295.28" width="6.40" height="5.52" fill="#d2d2d2"/>
<rect x="532.26" y="297.18" width="4.40" height="2.87" fill="#4E79A7"/>
<rect x="544.05" y="267.86" width="6.40" height="32.94" fill="#d2d2d2"/>
<rect x="545.05" y="269.76" width="4.40" height="30.29" fill="#4E79A7"/>
<rect x="550.45" y="286.14" width="6.40" height="14.66" fill="#d2d2d2"/>
<rect x="551.45" y="288.04" width="4.40" height="12.01" fill="#4E79A7"/>
<rect x="556.85" y="295.28" width="6.40" height="5.52" fill="#d2d2d2"/>
<rect x="557.85" y="297.18" width="4.40" height="2.87" fill="#4E79A7"/>
<rect x="563.24" y="286.14" width="6.40" height="14.66" fill="#d2d2d2"/>
<rect x="564.24" y="288.04" width="4.40" height="12.01" fill="#4E79A7"/>
<rect x="569.64" y="286.14" width="6.40" height="14.66" fill="#d2d2d2"/>
<rect x="570.64" y="288.04" width="4.40" height="12.01" fill="#4E79A7"/>
<rect x="576.03" y="295.28" width="6.40" height="5.52" fill="#d2d2d2"/>
<rect x="577.03" y="297.18" width="4.40" height="2.87" fill="#4E79A7"/>
<rect x="582.43" y="295.28" width="6.40" height="5.52" fill="#d2d2d2"/>
<rect x="583.43" y="297.18" width="4.40" height="2.87" fill="#4E79A7"/>
<rect x="595.22" y="290.71" width="6.40" height="10.09" fill="#d2d2d2"/>
<rect x="596.22" y="292.61" width="4.40" height="7.44" fill="#4E79A7"/>
<rect x="601.62" y="290.71" width="6.40" height="10.09" fill="#d2d2d2"/>
<rect x="602.62" y="292.61" width="4.40" height="7.44" fill="#4E79A7"/>
<rect x="608.02" y="272.43" width="6.40" height="28.37" fill="#d2d2d2"/>
<rect x="609.02" y="274.33" width="4.40" height="25.72" fill="#4E79A7"/>
<rect x="620.81" y="277.00" width="6.40" height="23.80" fill="#d2d2d2"/>
<rect x="621.81" y="278.90" width="4.40" height="21.15" fill="#4E79A7"/>
<rect x="627.21" y="281.57" width="6.40" height="19.23" fill="#d2d2d2"/>
<rect x="628.21" y="288.04" width="4.40" height="12.01" fill="#4E79A7"/>
<rect x="628.21" y="283.47" width="4.40" height="2.67" fill="#59A14F"/>
<rect x="633.60" y="267.86" width="6.40" height="32.94" fill="#d2d2d2"/>
<rect x="634.60" y="278.90" width="4.40" height="21.15" fill="#4E79A7"/>
<rect x="634.60" y="269.76" width="4.40" height="7.24" fill="#59A14F"/>
<rect x="646.40" y="286.14" width="6.40" height="14.66" fill="#d2d2d2"/>
<rect x="647.40" y="297.18" width="4.40" height="2.87" fill="#4E79A7"/>
<rect x="647.40" y="288.04" width="4.40" height="7.24" fill="#59A14F"/>
<rect x="652.79" y="277.00" width="6.40" height="23.80" fill="#d2d2d2"/>
<rect x="653.79" y="288.04" width="4.40" height="12.01" fill="#4E79A7"/>
<rect x="653.79" y="278.90" width="4.40" height="7.24" fill="#59A14F"/>
<rect x="659.19" y="281.57" width="6.40" height="19.23" fill="#d2d2d2"/>
<rect x="660.19" y="292.61" width="4.40" height="7.44" fill="#4E79A7"/>
<rect x="660.19" y="283.47" width="4.40" height="7.24" fill="#59A14F"/>
<rect x="665.58" y="263.29" width="6.40" height="37.51" fill="#d2d2d2"/>
<rect x="666.58" y="274.33" width="4.40" height="25.72" fill="#4E79A7"/>
<rect x="666.58" y="265.19" width="4.40" height="7.24" fill="#59A14F"/>
<rect x="671.98" y="281.57" width="6.40" height="19.23" fill="#d2d2d2"/>
<rect x="672.98" y="283.47" width="4.40" height="16.58" fill="#4E79A7"/>
<rect x="678.38" y="286.14" width="6.40" height="14.66" fill="#d2d2d2"/>
<rect x="679.38" y="288.04" width="4.40" height="12.01" fill="#4E79A7"/>
<rect x="684.77" y="286.14" width="6.40" height="14.66" fill="#d2d2d2"/>
<rect x="685.77" y="288.04" width="4.40" height="12.01" fill="#4E79A7"/>
<rect x="691.17" y="281.57" width="6.40" height="19.23" fill="#d2d2d2"/>
<rect x="692.17" y="283.47" width="4.40" height="16.58" fill="#4E79A7"/>
<rect x="697.57" y="295.28" width="6.40" height="5.52" fill="#d2d2d2"/>
<rect x="698.57" y="297.18" width="4.40" height="2.87" fill="#4E79A7"/>
<rect x="703.96" y="286.14" width="6.40" height="14.66" fill="#d2d2d2"/>
<rect x="704.96" y="288.04" width="4.40" height="12.01" fill="#4E79A7"/>
<rect x="716.76" y="281.57" width="6.40" height="19.23" fill="#d2d2d2"/>
<rect x="717.76" y="283.47" width="4.40" height="16.58" fill="#4E79A7"/>
<rect x="723.15" y="277.00" width="6.40" height="23.80" fill="#d2d2d2"/>
<rect x="724.15" y="278.90" width="4.40" height="21.15" fill="#4E79A7"/>
<rect x="729.55" y="286.14" width="6.40" height="14.66" fill="#d2d2d2"/>
<rect x="730.55" y="288.04" width="4.40" height="12.01" fill="#4E79A7"/>
<rect x="735.94" y="240.44" width="6.40" height="60.36" fill="#d2d2d2"/>
<rect x="736.94" y="274.33" width="4.40" height="25.72" fill="#4E79A7"/>
<rect x="736.94" y="242.34" width="4.40" height="30.09" fill="#59A14F"/>
<rect x="742.34" y="272.43" width="6.40" height="28.37" fill="#d2d2d2"/>
<rect x="743.34" y="274.33" width="4.40" height="25.72" fill="#4E79A7"/>
<rect x="755.13" y="267.86" width="6.40" height="32.94" fill="#d2d2d2"/>
<rect x="756.13" y="269.76" width="4.40" height="30.29" fill="#4E79A7"/>
<rect x="767.93" y="245.01" width="6.40" height="55.79" fill="#d2d2d2"/>
<rect x="768.93" y="251.48" width="4.40" height="48.57" fill="#4E79A7"/>
<rect x="768.93" y="246.91" width="4.40" height="2.67" fill="#59A14F"/>
<rect x="774.32" y="277.00" width="6.40" height="23.80" fill="#d2d2d2"/>
<rect x="775.32" y="278.90" width="4.40" height="21.15" fill="#4E79A7"/>
<rect x="780.72" y="290.71" width="6.40" height="10.09" fill="#d2d2d2"/>
<rect x="781.72" y="292.61" width="4.40" height="7.44" fill="#4E79A7"/>
<rect x="787.12" y="267.86" width="6.40" height="32.94" fill="#d2d2d2"/>
<rect x="788.12" y="269.76" width="4.40" height="30.29" fill="#4E79A7"/>
<rect x="793.51" y="290.71" width="6.40" height="10.09" fill="#d2d2d2"/>
<rect x="794.51" y="292.61" width="4.40" height="7.44" fill="#4E79A7"/>
<rect x="806.31" y="281.57" width="6.40" height="19.23" fill="#d2d2d2"/>
<rect x="807.31" y="292.61" width="4.40" height="7.44" fill="#4E79A7"/>
<rect x="807.31" y="283.47" width="4.40" height="7.24" fill="#59A14F"/>
<rect x="812.70" y="263.29" width="6.40" height="37.51" fill="#d2d2d2"/>
<rect x="813.70" y="274.33" width="4.40" height="25.72" fill="#4E79A7"/>
<rect x="813.70" y="265.19" width="4.40" height="7.24" fill="#59A14F"/>
<rect x="819.10" y="281.57" width="6.40" height="19.23" fill="#d2d2d2"/>
<rect x="820.10" y="283.47" width="4.40" height="16.58" fill="#4E79A7"/>
<rect x="825.49" y="277.00" width="6.40" height="23.80" fill="#d2d2d2"/>
<rect x="826.49" y="278.90" width="4.40" height="21.15" fill="#4E79A7"/>
<rect x="831.89" y="267.86" width="6.40" height="32.94" fill="#d2d2d2"/>
<rect x="832.89" y="269.76" width="4.40" height="30.29" fill="#4E79A7"/>
<rect x="838.29" y="277.00" width="6.40" height="23.80" fill="#d2d2d2"/>
<rect x="839.29" y="278.90" width="4.40" height="21.15" fill="#4E79A7"/>
<rect x="844.68" y="281.57" width="6.40" height="19.23" fill="#d2d2d2"/>
<rect x="845.68" y="283.47" width="4.40" height="16.58" fill="#4E79A7"/>
<rect x="851.08" y="267.86" width="6.40" height="32.94" fill="#d2d2d2"/>
<rect x="852.08" y="269.76" width="4.40" height="30.29" fill="#4E79A7"/>
<rect x="857.48" y="290.71" width="6.40" height="10.09" fill="#d2d2d2"/>
<rect x="858.48" y="292.61" width="4.40" height="7.44" fill="#4E79A7"/>
<rect x="863.87" y="267.86" width="6.40" height="32.94" fill="#d2d2d2"/>
<rect x="864.87" y="269.76" width="4.40" height="30.29" fill="#4E79A7"/>
<rect x="870.27" y="249.58" width="6.40" height="51.22" fill="#d2d2d2"/>
<rect x="871.27" y="251.48" width="4.40" height="48.57" fill="#4E79A7"/>
<rect x="876.67" y="272.43" width="6.40" height="28.37" fill="#d2d2d2"/>
<rect x="877.67" y="274.33" width="4.40" height="25.72" fill="#4E79A7"/>
<rect x="883.06" y="295.28" width="6.40" height="5.52" fill="#d2d2d2"/>
<rect x="884.06" y="297.18" width="4.40" height="2.87" fill="#4E79A7"/>
<rect x="889.46" y="286.14" width="6.40" height="14.66" fill="#d2d2d2"/>
<rect x="890.46" y="288.04" width="4.40" height="12.01" fill="#4E79A7"/>
<rect x="895.85" y="290.71" width="6.40" height="10.09" fill="#d2d2d2"/>
<rect x="896.85" y="292.61" width="4.40" height="7.44" fill="#4E79A7"/>
<rect x="902.25" y="295.28" width="6.40" height="5.52" fill="#d2d2d2"/>
<rect x="903.25" y="297.18" width="4.40" height="2.87" fill="#4E79A7"/>
<rect x="908.65" y="286.14" width="6.40" height="14.66" fill="#d2d2d2"/>
<rect x="909.65" y="297.18" width="4.40" height="2.87" fill="#4E79A7"/>
<rect x="909.65" y="288.04" width="4.40" height="7.24" fill="#59A14F"/>
<rect x="915.04" y="286.14" width="6.40" height="14.66" fill="#d2d2d2"/>
<rect x="916.04" y="288.04" width="4.40" height="12.01" fill="#4E79A7"/>
<rect x="921.44" y="272.43" width="6.40" height="28.37" fill="#d2d2d2"/>
<rect x="922.44" y="274.33" width="4.40" height="25.72" fill="#4E79A7"/>
<rect x="927.84" y="290.71" width="6.40" height="10.09" fill="#d2d2d2"/>
<rect x="928.84" y="292.61" width="4.40" height="7.44" fill="#4E79A7"/>
<rect x="934.23" y="272.43" width="6.40" height="28.37" fill="#d2d2d2"/>
<rect x="935.23" y="274.33" width="4.40" height="25.72" fill="#4E79A7"/>
<rect x="940.63" y="290.71" width="6.40" height="10.09" fill="#d2d2d2"/>
<rect x="941.63" y="292.61" width="4.40" height="7.44" fill="#4E79A7"/>
<rect x="947.03" y="290.71" width="6.40" height="10.09" fill="#d2d2d2"/>
<rect x="948.03" y="292.61" width="4.40" height="7.44" fill="#4E79A7"/>
<rect x="953.42" y="267.86" width="6.40" height="32.94" fill="#d2d2d2"/>
<rect x="954.42" y="269.76" width="4.40" height="30.29" fill="#4E79A7"/>
<rect x="959.82" y="240.44" width="6.40" height="60.36" fill="#d2d2d2"/>
<rect x="960.82" y="242.34" width="4.40" height="57.71" fill="#4E79A7"/>
<rect x="966.22" y="249.58" width="6.40" height="51.22" fill="#d2d2d2"/>
<rect x="967.22" y="251.48" width="4.40" height="48.57" fill="#4E79A7"/>
<rect x="972.61" y="267.86" width="6.40" height="32.94" fill="#d2d2d2"/>
<rect x="973.61" y="269.76" width="4.40" height="30.29" fill="#4E79A7"/>
<rect x="979.01" y="286.14" width="6.40" height="14.66" fill="#d2d2d2"/>
<rect x="980.01" y="288.04" width="4.40" height="12.01" fill="#4E79A7"/>
<rect x="985.40" y="281.57" width="6.40" height="19.23" fill="#d2d2d2"/>
<rect x="986.40" y="283.47" width="4.40" height="16.58" fill="#4E79A7"/>
<rect x="998.20" y="272.43" width="6.40" height="28.37" fill="#d2d2d2"/>
<rect x="999.20" y="274.33" width="4.40" height="25.72" fill="#4E79A7"/>
<rect x="1004.59" y="295.28" width="6.40" height="5.52" fill="#d2d2d2"/>
<rect x="1005.59" y="297.18" width="4.40" height="2.87" fill="#4E79A7"/>
<rect x="1010.99" y="254.15" width="6.40" height="46.65" fill="#d2d2d2"/>
<rect x="1011.99" y="256.05" width="4.40" height="44.00" fill="#4E79A7"/>
<rect x="1017.39" y="263.29" width="6.40" height="37.51" fill="#d2d2d2"/>
<rect x="1018.39" y="265.19" width="4.40" height="34.86" fill="#4E79A7"/>
<rect x="1023.78" y="290.71" width="6.40" height="10.09" fill="#d2d2d2"/>
<rect x="1024.78" y="292.61" width="4.40" height="7.44" fill="#4E79A7"/>
<rect x="1030.18" y="290.71" width="6.40" height="10.09" fill="#d2d2d2"/>
<rect x="1031.18" y="292.61" width="4.40" height="7.44" fill="#4E79A7"/>
<rect x="1036.58" y="290.71" width="6.40" height="10.09" fill="#d2d2d2"/>
<rect x="1037.58" y="292.61" width="4.40" height="7.44" fill="#4E79A7"/>
<rect x="1042.97" y="290.71" width="6.40" height="10.09" fill="#d2d2d2"/>
<rect x="1043.97" y="292.61" width="4.40" height="7.44" fill="#4E79A7"/>
<rect x="1049.37" y="277.00" width="6.40" height="23.80" fill="#d2d2d2"/>
<rect x="1050.37" y="278.90" width="4.40" height="21.15" fill="#4E79A7"/>
<rect x="1055.76" y="272.43" width="6.40" height="28.37" fill="#d2d2d2"/>
<rect x="1056.76" y="274.33" width="4.40" height="25.72" fill="#4E79A7"/>
<rect x="1062.16" y="290.71" width="6.40" height="10.09" fill="#d2d2d2"/>
<rect x="1063.16" y="292.61" width="4.40" height="7.44" fill="#4E79A7"/>
<rect x="1068.56" y="277.00" width="6.40" height="23.80" fill="#d2d2d2"/>
<rect x="1069.56" y="278.90" width="4.40" height="21.15" fill="#4E79A7"/>
<rect x="1074.95" y="286.14" width="6.40" height="14.66" fill="#d2d2d2"/>
<rect x="1075.95" y="288.04" width="4.40" height="12.01" fill="#4E79A7"/>
<rect x="1081.35" y="286.14" width="6.40" height="14.66" fill="#d2d2d2"/>
<rect x="1082.35" y="288.04" width="4.40" height="12.01" fill="#4E79A7"/>
<rect x="1087.75" y="277.00" width="6.40" height="23.80" fill="#d2d2d2"/>
<rect x="1088.75" y="278.90" width="4.40" height="21.15" fill="#4E79A7"/>
<rect x="1094.14" y="281.57" width="6.40" height="19.23" fill="#d2d2d2"/>
<rect x="1095.14" y="283.47" width="4.40" height="16.58" fill="#4E79A7"/>
<rect x="1100.54" y="286.14" width="6.40" height="14.66" fill="#d2d2d2"/>
<rect x="1101.54" y="288.04" width="4.40" height="12.01" fill="#4E79A7"/>
<rect x="1106.94" y="254.15" width="6.40" height="46.65" fill="#d2d2d2"/>
<rect x="1107.94" y="256.05" width="4.40" height="44.00" fill="#4E79A7"/>
<rect x="1113.33" y="263.29" width="6.40" height="37.51" fill="#d2d2d2"/>
<rect x="1114.33" y="265.19" width="4.40" height="34.86" fill="#4E79A7"/>
<rect x="1119.73" y="281.57" width="6.40" height="19.23" fill="#d2d2d2"/>
<rect x="1120.73" y="292.61" width="4.40" height="7.44" fill="#4E79A7"/>
<rect x="1120.73" y="283.47" width="4.40" height="7.24" fill="#59A14F"/>
<rect x="1126.13" y="281.57" width="6.40" height="19.23" fill="#d2d2d2"/>
<rect x="1127.13" y="283.47" width="4.40" height="16.58" fill="#4E79A7"/>
<rect x="1132.52" y="254.15" width="6.40" height="46.65" fill="#d2d2d2"/>
<rect x="1133.52" y="256.05" width="4.40" height="44.00" fill="#4E79A7"/>
<rect x="1138.92" y="277.00" width="6.40" height="23.80" fill="#d2d2d2"/>
<rect x="1139.92" y="278.90" width="4.40" height="21.15" fill="#4E79A7"/>
<rect x="1145.31" y="267.86" width="6.40" height="32.94" fill="#d2d2d2"/>
<rect x="1146.31" y="269.76" width="4.40" height="30.29" fill="#4E79A7"/>
<rect x="1151.71" y="281.57" width="6.40" height="19.23" fill="#d2d2d2"/>
<rect x="1152.71" y="283.47" width="4.40" height="16.58" fill="#4E79A7"/>
<rect x="1158.11" y="277.00" width="6.40" height="23.80" fill="#d2d2d2"/>
<rect x="1159.11" y="278.90" width="4.40" height="21.15" fill="#4E79A7"/>
<rect x="1164.50" y="267.86" width="6.40" height="32.94" fill="#d2d2d2"/>
<rect x="1165.50" y="269.76" width="4.40" height="30.29" fill="#4E79A7"/>
<rect x="1170.90" y="249.58" width="6.40" height="51.22" fill="#d2d2d2"/>
<rect x="1171.90" y="251.48" width="4.40" height="48.57" fill="#4E79A7"/>
<rect x="1177.30" y="277.00" width="6.40" height="23.80" fill="#d2d2d2"/>
<rect x="1178.30" y="278.90" width="4.40" height="21.15" fill="#4E79A7"/>
<rect x="1183.69" y="281.57" width="6.40" height="19.23" fill="#d2d2d2"/>
<rect x="1184.69" y="283.47" width="4.40" height="16.58" fill="#4E79A7"/>
<rect x="1190.09" y="254.15" width="6.40" height="46.65" fill="#d2d2d2"/>
<rect x="1191.09" y="256.05" width="4.40" height="44.00" fill="#4E79A7"/>
<rect x="1196.49" y="231.30" width="6.40" height="69.50" fill="#d2d2d2"/>
<rect x="1197.49" y="233.20" width="4.40" height="66.85" fill="#4E79A7"/>
<rect x="1202.88" y="263.29" width="6.40" height="37.51" fill="#d2d2d2"/>
<rect x="1203.88" y="265.19" width="4.40" height="34.86" fill="#4E79A7"/>
<rect x="1209.28" y="277.00" width="6.40" height="23.80" fill="#d2d2d2"/>
<rect x="1210.28" y="297.18" width="4.40" height="2.87" fill="#A0CBE8"/>
<rect x="1210.28" y="278.90" width="4.40" height="16.38" fill="#4E79A7"/>
<rect x="1215.67" y="267.86" width="6.40" height="32.94" fill="#d2d2d2"/>
<rect x="1216.67" y="278.90" width="4.40" height="21.15" fill="#4E79A7"/>
<rect x="1216.67" y="269.76" width="4.40" height="7.24" fill="#59A14F"/>
<rect x="1222.07" y="235.87" width="6.40" height="64.93" fill="#d2d2d2"/>
<rect x="1223.07" y="237.77" width="4.40" height="62.28" fill="#4E79A7"/>
<rect x="1234.86" y="263.29" width="6.40" height="37.51" fill="#d2d2d2"/>
<rect x="1235.86" y="265.19" width="4.40" height="34.86" fill="#4E79A7"/>
<rect x="1241.26" y="254.15" width="6.40" height="46.65" fill="#d2d2d2"/>
<rect x="1242.26" y="256.05" width="4.40" height="44.00" fill="#4E79A7"/>
<rect x="1247.66" y="226.73" width="6.40" height="74.07" fill="#d2d2d2"/>
<rect x="1248.66" y="228.63" width="4.40" height="71.42" fill="#4E79A7"/>
<rect x="1254.05" y="254.15" width="6.40" height="46.65" fill="#d2d2d2"/>
<rect x="1255.05" y="256.05" width="4.40" height="44.00" fill="#4E79A7"/>
<rect x="1260.45" y="286.14" width="6.40" height="14.66" fill="#d2d2d2"/>
<rect x="1261.45" y="288.04" width="4.40" height="12.01" fill="#4E79A7"/>
<rect x="1266.85" y="272.43" width="6.40" height="28.37" fill="#d2d2d2"/>
<rect x="1267.85" y="274.33" width="4.40" height="25.72" fill="#4E79A7"/>
<rect x="1273.24" y="277.00" width="6.40" height="23.80" fill="#d2d2d2"/>
<rect x="1274.24" y="278.90" width="4.40" height="21.15" fill="#4E79A7"/>
<rect x="1279.64" y="249.58" width="6.40" height="51.22" fill="#d2d2d2"/>
<rect x="1280.64" y="251.48" width="4.40" height="48.57" fill="#4E79A7"/>
<rect x="1286.04" y="295.28" width="6.40" height="5.52" fill="#d2d2d2"/>
<rect x="1287.04" y="297.18" width="4.40" height="2.87" fill="#4E79A7"/>
<rect x="1292.43" y="295.28" width="6.40" height="5.52" fill="#d2d2d2"/>
<rect x="1293.43" y="297.18" width="4.40" height="2.87" fill="#4E79A7"/>
<rect x="1298.83" y="272.43" width="6.40" height="28.37" fill="#d2d2d2"/>
<rect x="1299.83" y="274.33" width="4.40" height="25.72" fill="#4E79A7"/>
<rect x="1305.22" y="258.72" width="6.40" height="42.08" fill="#d2d2d2"/>
<rect x="1306.22" y="260.62" width="4.40" height="39.43" fill="#4E79A7"/>
<rect x="1311.62" y="267.86" width="6.40" height="32.94" fill="#d2d2d2"/>
<rect x="1312.62" y="269.76" width="4.40" height="30.29" fill="#4E79A7"/>
<rect x="1318.02" y="277.00" width="6.40" height="23.80" fill="#d2d2d2"/>
<rect x="1319.02" y="278.90" width="4.40" height="21.15" fill="#4E79A7"/>
<rect x="1324.41" y="267.86" width="6.40" height="32.94" fill="#d2d2d2"/>
<rect x="1325.41" y="269.76" width="4.40" height="30.29" fill="#4E79A7"/>
<rect x="1330.81" y="254.15" width="6.40" height="46.65" fill="#d2d2d2"/>
<rect x="1331.81" y="256.05" width="4.40" height="44.00" fill="#4E79A7"/>
<rect x="1337.21" y="258.72" width="6.40" height="42.08" fill="#d2d2d2"/>
<rect x="1338.21" y="260.62" width="4.40" height="39.43" fill="#4E79A7"/>
<rect x="1343.60" y="290.71" width="6.40" height="10.09" fill="#d2d2d2"/>
<rect x="1344.60" y="292.61" width="4.40" height="7.44" fill="#4E79A7"/>
<rect x="1350.00" y="277.00" width="6.40" height="23.80" fill="#d2d2d2"/>
<rect x="1351.00" y="278.90" width="4.40" height="21.15" fill="#4E79A7"/>
<rect x="1356.40" y="277.00" width="6.40" height="23.80" fill="#d2d2d2"/>
<rect x="1357.40" y="278.90" width="4.40" height="21.15" fill="#4E79A7"/>
<rect x="1362.79" y="277.00" width="6.40" height="23.80" fill="#d2d2d2"/>
<rect x="1363.79" y="278.90" width="4.40" height="21.15" fill="#4E79A7"/>
<rect x="1369.19" y="254.15" width="6.40" height="46.65" fill="#d2d2d2"/>
<rect x="1370.19" y="256.05" width="4.40" height="44.00" fill="#4E79A7"/>
<rect x="1375.58" y="286.14" width="6.40" height="14.66" fill="#d2d2d2"/>
<rect x="1376.58" y="288.04" width="4.40" height="12.01" fill="#4E79A7"/>
<rect x="1381.98" y="290.71" width="6.40" height="10.09" fill="#d2d2d2"/>
<rect x="1382.98" y="292.61" width="4.40" height="7.44" fill="#4E79A7"/>
<rect x="1388.38" y="277.00" width="6.40" height="23.80" fill="#d2d2d2"/>
<rect x="1389.38" y="278.90" width="4.40" height="21.15" fill="#4E79A7"/>
<rect x="1394.77" y="263.29" width="6.40" height="37.51" fill="#d2d2d2"/>
<rect x="1395.77" y="265.19" width="4.40" height="34.86" fill="#4E79A7"/>
<rect x="1401.17" y="281.57" width="6.40" height="19.23" fill="#d2d2d2"/>
<rect x="1402.17" y="283.47" width="4.40" height="16.58" fill="#4E79A7"/>
<rect x="1407.57" y="267.86" width="6.40" height="32.94" fill="#d2d2d2"/>
<rect x="1408.57" y="269.76" width="4.40" height="30.29" fill="#4E79A7"/>
<rect x="1413.96" y="267.86" width="6.40" height="32.94" fill="#d2d2d2"/>
<rect x="1414.96" y="269.76" width="4.40" height="30.29" fill="#4E79A7"/>
<rect x="1420.36" y="267.86" width="6.40" height="32.94" fill="#d2d2d2"/>
<rect x="1421.36" y="269.76" width="4.40" height="30.29" fill="#4E79A7"/>
<rect x="1426.76" y="281.57" width="6.40" height="19.23" fill="#d2d2d2"/>
<rect x="1427.76" y="283.47" width="4.40" height="16.58" fill="#4E79A7"/>
<rect x="1433.15" y="277.00" width="6.40" height="23.80" fill="#d2d2d2"/>
<rect x="1434.15" y="278.90" width="4.40" height="21.15" fill="#4E79A7"/>
<rect x="1439.55" y="277.00" width="6.40" height="23.80" fill="#d2d2d2"/>
<rect x="1440.55" y="278.90" width="4.40" height="21.15" fill="#4E79A7"/>
<rect x="1445.95" y="277.00" width="6.40" height="23.80" fill="#d2d2d2"/>
<rect x="1446.95" y="278.90" width="4.40" height="21.15" fill="#4E79A7"/>
<rect x="1452.34" y="258.72" width="6.40" height="42.08" fill="#d2d2d2"/>
<rect x="1453.34" y="260.62" width="4.40" height="39.43" fill="#4E79A7"/>
<rect x="1458.74" y="235.87" width="6.40" height="64.93" fill="#d2d2d2"/>
<rect x="1459.74" y="237.77" width="4.40" height="62.28" fill="#4E79A7"/>
<rect x="1471.53" y="254.15" width="6.40" height="46.65" fill="#d2d2d2"/>
<rect x="1472.53" y="256.05" width="4.40" height="44.00" fill="#4E79A7"/>
<rect x="1477.93" y="281.57" width="6.40" height="19.23" fill="#d2d2d2"/>
<rect x="1478.93" y="283.47" width="4.40" height="16.58" fill="#4E79A7"/>
<rect x="1484.32" y="281.57" width="6.40" height="19.23" fill="#d2d2d2"/>
<rect x="1485.32" y="283.47" width="4.40" height="16.58" fill="#4E79A7"/>
<rect x="1490.72" y="277.00" width="6.40" height="23.80" fill="#d2d2d2"/>
<rect x="1491.72" y="278.90" width="4.40" height="21.15" fill="#4E79A7"/>
<rect x="1497.12" y="267.86" width="6.40" height="32.94" fill="#d2d2d2"/>
<rect x="1498.12" y="269.76" width="4.40" height="30.29" fill="#4E79A7"/>
<rect x="1503.51" y="258.72" width="6.40" height="42.08" fill="#d2d2d2"/>
<rect x="1504.51" y="260.62" width="4.40" height="39.43" fill="#4E79A7"/>
<rect x="1509.91" y="272.43" width="6.40" height="28.37" fill="#d2d2d2"/>
<rect x="1510.91" y="274.33" width="4.40" height="25.72" fill="#4E79A7"/>
<rect x="1516.31" y="281.57" width="6.40" height="19.23" fill="#d2d2d2"/>
<rect x="1517.31" y="283.47" width="4.40" height="16.58" fill="#4E79A7"/>
<rect x="1522.70" y="254.15" width="6.40" height="46.65" fill="#d2d2d2"/>
<rect x="1523.70" y="256.05" width="4.40" height="44.00" fill="#4E79A7"/>
<rect x="1529.10" y="272.43" width="6.40" height="28.37" fill="#d2d2d2"/>
<rect x="1530.10" y="274.33" width="4.40" height="25.72" fill="#4E79A7"/>
<rect x="1535.49" y="263.29" width="6.40" height="37.51" fill="#d2d2d2"/>
<rect x="1536.49" y="265.19" width="4.40" height="34.86" fill="#4E79A7"/>
<rect x="1541.89" y="286.14" width="6.40" height="14.66" fill="#d2d2d2"/>
<rect x="1542.89" y="288.04" width="4.40" height="12.01" fill="#4E79A7"/>
<rect x="1548.29" y="263.29" width="6.40" height="37.51" fill="#d2d2d2"/>
<rect x="1549.29" y="265.19" width="4.40" height="34.86" fill="#4E79A7"/>
<rect x="1554.68" y="258.72" width="6.40" height="42.08" fill="#d2d2d2"/>
<rect x="1555.68" y="260.62" width="4.40" height="39.43" fill="#4E79A7"/>
<rect x="1561.08" y="281.57" width="6.40" height="19.23" fill="#d2d2d2"/>
<rect x="1562.08" y="283.47" width="4.40" height="16.58" fill="#4E79A7"/>
<rect x="1567.48" y="272.43" width="6.40" height="28.37" fill="#d2d2d2"/>
<rect x="1568.48" y="274.33" width="4.40" height="25.72" fill="#4E79A7"/>
<rect x="1573.87" y="208.45" width="6.40" height="92.35" fill="#d2d2d2"/>
<rect x="1574.87" y="210.35" width="4.40" height="89.70" fill="#4E79A7"/>
<rect x="1580.27" y="277.00" width="6.40" height="23.80" fill="#d2d2d2"/>
<rect x="1581.27" y="278.90" width="4.40" height="21.15" fill="#4E79A7"/>
<rect x="1586.67" y="290.71" width="6.40" height="10.09" fill="#d2d2d2"/>
<rect x="1587.67" y="292.61" width="4.40" height="7.44" fill="#4E79A7"/>
<rect x="1593.06" y="286.14" width="6.40" height="14.66" fill="#d2d2d2"/>
<rect x="1594.06" y="288.04" width="4.40" height="12.01" fill="#4E79A7"/>
<rect x="1599.46" y="267.86" width="6.40" height="32.94" fill="#d2d2d2"/>
<rect x="1600.46" y="269.76" width="4.40" height="30.29" fill="#4E79A7"/>
<rect x="371.35" y="392.81" width="6.40" height="3.89" fill="#d2d2d2"/>
<rect x="372.35" y="394.65" width="4.40" height="1.30" fill="#59A14F"/>
<rect x="377.75" y="385.71" width="6.40" height="10.99" fill="#d2d2d2"/>
<rect x="378.75" y="387.61" width="4.40" height="8.34" fill="#59A14F"/>
<rect x="384.14" y="385.71" width="6.40" height="10.99" fill="#d2d2d2"/>
<rect x="385.14" y="387.61" width="4.40" height="8.34" fill="#59A14F"/>
<rect x="390.54" y="389.97" width="6.40" height="6.73" fill="#d2d2d2"/>
<rect x="391.54" y="391.87" width="4.40" height="4.08" fill="#59A14F"/>
<rect x="403.33" y="391.39" width="6.40" height="5.31" fill="#d2d2d2"/>
<rect x="404.33" y="393.29" width="4.40" height="2.66" fill="#FABFD2"/>
<rect x="416.12" y="394.23" width="6.40" height="2.47" fill="#d2d2d2"/>
<rect x="422.52" y="392.81" width="6.40" height="3.89" fill="#d2d2d2"/>
<rect x="423.52" y="394.65" width="4.40" height="1.30" fill="#59A14F"/>
<rect x="428.92" y="389.97" width="6.40" height="6.73" fill="#d2d2d2"/>
<rect x="429.92" y="394.65" width="4.40" height="1.30" fill="#FABFD2"/>
<rect x="429.92" y="391.87" width="4.40" height="0.94" fill="#59A14F"/>
<rect x="435.31" y="394.23" width="6.40" height="2.47" fill="#d2d2d2"/>
<rect x="454.50" y="393.75" width="6.40" height="2.95" fill="#d2d2d2"/>
<rect x="455.50" y="394.65" width="4.40" height="1.30" fill="#59A14F"/>
<rect x="467.30" y="394.23" width="6.40" height="2.47" fill="#d2d2d2"/>
<rect x="473.69" y="389.97" width="6.40" height="6.73" fill="#d2d2d2"/>
<rect x="474.69" y="394.65" width="4.40" height="1.30" fill="#FABFD2"/>
<rect x="474.69" y="391.87" width="4.40" height="0.94" fill="#59A14F"/>
<rect x="480.09" y="394.23" width="6.40" height="2.47" fill="#d2d2d2"/>
<rect x="492.88" y="394.23" width="6.40" height="2.47" fill="#d2d2d2"/>
<rect x="499.28" y="392.81" width="6.40" height="3.89" fill="#d2d2d2"/>
<rect x="500.28" y="394.65" width="4.40" height="1.30" fill="#59A14F"/>
<rect x="518.47" y="389.97" width="6.40" height="6.73" fill="#d2d2d2"/>
<rect x="519.47" y="391.87" width="4.40" height="4.08" fill="#59A14F"/>
<rect x="524.86" y="391.39" width="6.40" height="5.31" fill="#d2d2d2"/>
<rect x="525.86" y="393.29" width="4.40" height="2.66" fill="#59A14F"/>
<rect x="531.26" y="392.81" width="6.40" height="3.89" fill="#d2d2d2"/>
<rect x="532.26" y="394.65" width="4.40" height="1.30" fill="#59A14F"/>
<rect x="544.05" y="387.13" width="6.40" height="9.57" fill="#d2d2d2"/>
<rect x="545.05" y="393.29" width="4.40" height="2.66" fill="#FABFD2"/>
<rect x="545.05" y="389.03" width="4.40" height="2.36" fill="#59A14F"/>
<rect x="556.85" y="382.87" width="6.40" height="13.83" fill="#d2d2d2"/>
<rect x="557.85" y="394.65" width="4.40" height="1.30" fill="#FABFD2"/>
<rect x="557.85" y="384.77" width="4.40" height="8.04" fill="#59A14F"/>
<rect x="563.24" y="389.97" width="6.40" height="6.73" fill="#d2d2d2"/>
<rect x="564.24" y="394.65" width="4.40" height="1.30" fill="#FABFD2"/>
<rect x="564.24" y="391.87" width="4.40" height="0.94" fill="#59A14F"/>
<rect x="569.64" y="392.81" width="6.40" height="3.89" fill="#d2d2d2"/>
<rect x="570.64" y="394.65" width="4.40" height="1.30" fill="#59A14F"/>
<rect x="576.03" y="382.87" width="6.40" height="13.83" fill="#d2d2d2"/>
<rect x="577.03" y="384.77" width="4.40" height="11.18" fill="#59A14F"/>
<rect x="582.43" y="394.23" width="6.40" height="2.47" fill="#d2d2d2"/>
<rect x="588.83" y="388.55" width="6.40" height="8.15" fill="#d2d2d2"/>
<rect x="589.83" y="390.45" width="4.40" height="5.50" fill="#59A14F"/>
<rect x="595.22" y="392.81" width="6.40" height="3.89" fill="#d2d2d2"/>
<rect x="596.22" y="394.65" width="4.40" height="1.30" fill="#59A14F"/>
<rect x="601.62" y="387.13" width="6.40" height="9.57" fill="#d2d2d2"/>
<rect x="602.62" y="394.65" width="4.40" height="1.30" fill="#FABFD2"/>
<rect x="602.62" y="389.03" width="4.40" height="3.78" fill="#59A14F"/>
<rect x="608.02" y="389.97" width="6.40" height="6.73" fill="#d2d2d2"/>
<rect x="609.02" y="391.87" width="4.40" height="4.08" fill="#59A14F"/>
<rect x="627.21" y="392.81" width="6.40" height="3.89" fill="#d2d2d2"/>
<rect x="628.21" y="394.65" width="4.40" height="1.30" fill="#59A14F"/>
<rect x="633.60" y="391.39" width="6.40" height="5.31" fill="#d2d2d2"/>
<rect x="634.60" y="393.29" width="4.40" height="2.66" fill="#59A14F"/>
<rect x="646.40" y="391.39" width="6.40" height="5.31" fill="#d2d2d2"/>
<rect x="647.40" y="393.29" width="4.40" height="2.66" fill="#59A14F"/>
<rect x="678.38" y="392.81" width="6.40" height="3.89" fill="#d2d2d2"/>
<rect x="679.38" y="394.65" width="4.40" height="1.30" fill="#59A14F"/>
<rect x="684.77" y="384.29" width="6.40" height="12.41" fill="#d2d2d2"/>
<rect x="685.77" y="386.19" width="4.40" height="9.76" fill="#59A14F"/>
<rect x="691.17" y="357.31" width="6.40" height="39.39" fill="#d2d2d2"/>
<rect x="692.17" y="394.65" width="4.40" height="1.30" fill="#4E79A7"/>
<rect x="692.17" y="359.21" width="4.40" height="35.02" fill="#59A14F"/>
<rect x="697.57" y="388.55" width="6.40" height="8.15" fill="#d2d2d2"/>
<rect x="698.57" y="394.65" width="4.40" height="1.30" fill="#FABFD2"/>
<rect x="698.57" y="390.45" width="4.40" height="3.78" fill="#59A14F"/>
<rect x="703.96" y="351.63" width="6.40" height="45.07" fill="#d2d2d2"/>
<rect x="704.96" y="394.65" width="4.40" height="1.30" fill="#4E79A7"/>
<rect x="704.96" y="353.53" width="4.40" height="40.70" fill="#59A14F"/>
<rect x="710.36" y="306.19" width="6.40" height="90.51" fill="#d2d2d2"/>
<rect x="711.36" y="393.29" width="4.40" height="2.66" fill="#4E79A7"/>
<rect x="711.36" y="387.61" width="4.40" height="3.78" fill="#FF9D9A"/>
<rect x="711.36" y="308.09" width="4.40" height="77.62" fill="#59A14F"/>
<rect x="716.76" y="323.23" width="6.40" height="73.47" fill="#d2d2d2"/>
<rect x="717.76" y="325.13" width="4.40" height="70.82" fill="#59A14F"/>
<rect x="723.15" y="372.93" width="6.40" height="23.77" fill="#d2d2d2"/>
<rect x="724.15" y="374.83" width="4.40" height="21.12" fill="#59A14F"/>
<rect x="729.55" y="387.13" width="6.40" height="9.57" fill="#d2d2d2"/>
<rect x="730.55" y="389.03" width="4.40" height="6.92" fill="#59A14F"/>
<rect x="735.94" y="338.85" width="6.40" height="57.85" fill="#d2d2d2"/>
<rect x="736.94" y="340.75" width="4.40" height="55.20" fill="#59A14F"/>
<rect x="742.34" y="387.13" width="6.40" height="9.57" fill="#d2d2d2"/>
<rect x="743.34" y="389.03" width="4.40" height="6.92" fill="#59A14F"/>
<rect x="748.74" y="380.03" width="6.40" height="16.67" fill="#d2d2d2"/>
<rect x="749.74" y="381.93" width="4.40" height="14.02" fill="#59A14F"/>
<rect x="755.13" y="377.19" width="6.40" height="19.51" fill="#d2d2d2"/>
<rect x="756.13" y="379.09" width="4.40" height="16.86" fill="#59A14F"/>
<rect x="767.93" y="382.87" width="6.40" height="13.83" fill="#d2d2d2"/>
<rect x="768.93" y="384.77" width="4.40" height="11.18" fill="#59A14F"/>
<rect x="774.32" y="388.55" width="6.40" height="8.15" fill="#d2d2d2"/>
<rect x="775.32" y="390.45" width="4.40" height="5.50" fill="#59A14F"/>
<rect x="780.72" y="382.87" width="6.40" height="13.83" fill="#d2d2d2"/>
<rect x="781.72" y="384.77" width="4.40" height="11.18" fill="#59A14F"/>
<rect x="787.12" y="384.29" width="6.40" height="12.41" fill="#d2d2d2"/>
<rect x="788.12" y="386.19" width="4.40" height="9.76" fill="#59A14F"/>
<rect x="793.51" y="388.55" width="6.40" height="8.15" fill="#d2d2d2"/>
<rect x="794.51" y="390.45" width="4.40" height="5.50" fill="#59A14F"/>
<rect x="799.91" y="393.75" width="6.40" height="2.95" fill="#d2d2d2"/>
<rect x="800.91" y="394.65" width="4.40" height="1.30" fill="#59A14F"/>
<rect x="806.31" y="389.97" width="6.40" height="6.73" fill="#d2d2d2"/>
<rect x="807.31" y="391.87" width="4.40" height="4.08" fill="#59A14F"/>
<rect x="812.70" y="384.29" width="6.40" height="12.41" fill="#d2d2d2"/>
<rect x="813.70" y="394.65" width="4.40" height="1.30" fill="#FABFD2"/>
<rect x="813.70" y="386.19" width="4.40" height="6.62" fill="#59A14F"/>
<rect x="825.49" y="392.81" width="6.40" height="3.89" fill="#d2d2d2"/>
<rect x="826.49" y="394.65" width="4.40" height="1.30" fill="#59A14F"/>
<rect x="838.29" y="393.75" width="6.40" height="2.95" fill="#d2d2d2"/>
<rect x="839.29" y="394.65" width="4.40" height="1.30" fill="#FABFD2"/>
<rect x="844.68" y="393.75" width="6.40" height="2.95" fill="#d2d2d2"/>
<rect x="845.68" y="394.65" width="4.40" height="1.30" fill="#59A14F"/>
<rect x="851.08" y="393.75" width="6.40" height="2.95" fill="#d2d2d2"/>
<rect x="852.08" y="394.65" width="4.40" height="1.30" fill="#59A14F"/>
<rect x="863.87" y="389.97" width="6.40" height="6.73" fill="#d2d2d2"/>
<rect x="864.87" y="391.87" width="4.40" height="4.08" fill="#59A14F"/>
<rect x="870.27" y="384.29" width="6.40" height="12.41" fill="#d2d2d2"/>
<rect x="871.27" y="394.65" width="4.40" height="1.30" fill="#FABFD2"/>
<rect x="871.27" y="386.19" width="4.40" height="6.62" fill="#59A14F"/>
<rect x="876.67" y="362.99" width="6.40" height="33.71" fill="#d2d2d2"/>
<rect x="877.67" y="364.89" width="4.40" height="31.06" fill="#59A14F"/>
<rect x="883.06" y="362.99" width="6.40" height="33.71" fill="#d2d2d2"/>
<rect x="884.06" y="364.89" width="4.40" height="31.06" fill="#59A14F"/>
<rect x="889.46" y="331.75" width="6.40" height="64.95" fill="#d2d2d2"/>
<rect x="890.46" y="333.65" width="4.40" height="62.30" fill="#59A14F"/>
<rect x="895.85" y="355.89" width="6.40" height="40.81" fill="#d2d2d2"/>
<rect x="896.85" y="357.79" width="4.40" height="38.16" fill="#59A14F"/>
<rect x="902.25" y="393.75" width="6.40" height="2.95" fill="#d2d2d2"/>
<rect x="903.25" y="394.65" width="4.40" height="1.30" fill="#59A14F"/>
<rect x="908.65" y="388.55" width="6.40" height="8.15" fill="#d2d2d2"/>
<rect x="909.65" y="390.45" width="4.40" height="5.50" fill="#59A14F"/>
<rect x="915.04" y="393.75" width="6.40" height="2.95" fill="#d2d2d2"/>
<rect x="916.04" y="394.65" width="4.40" height="1.30" fill="#59A14F"/>
<rect x="921.44" y="392.81" width="6.40" height="3.89" fill="#d2d2d2"/>
<rect x="922.44" y="394.65" width="4.40" height="1.30" fill="#59A14F"/>
<rect x="927.84" y="387.13" width="6.40" height="9.57" fill="#d2d2d2"/>
<rect x="928.84" y="389.03" width="4.40" height="6.92" fill="#59A14F"/>
<rect x="934.23" y="389.97" width="6.40" height="6.73" fill="#d2d2d2"/>
<rect x="935.23" y="391.87" width="4.40" height="4.08" fill="#59A14F"/>
<rect x="940.63" y="387.13" width="6.40" height="9.57" fill="#d2d2d2"/>
<rect x="941.63" y="389.03" width="4.40" height="6.92" fill="#59A14F"/>
<rect x="947.03" y="389.97" width="6.40" height="6.73" fill="#d2d2d2"/>
<rect x="948.03" y="391.87" width="4.40" height="4.08" fill="#59A14F"/>
<rect x="953.42" y="393.75" width="6.40" height="2.95" fill="#d2d2d2"/>
<rect x="954.42" y="394.65" width="4.40" height="1.30" fill="#59A14F"/>
<rect x="959.82" y="381.45" width="6.40" height="15.25" fill="#d2d2d2"/>
<rect x="960.82" y="394.65" width="4.40" height="1.30" fill="#FABFD2"/>
<rect x="960.82" y="383.35" width="4.40" height="9.46" fill="#59A14F"/>
<rect x="966.22" y="375.77" width="6.40" height="20.93" fill="#d2d2d2"/>
<rect x="967.22" y="394.65" width="4.40" height="1.30" fill="#FABFD2"/>
<rect x="967.22" y="377.67" width="4.40" height="15.14" fill="#59A14F"/>
<rect x="979.01" y="393.75" width="6.40" height="2.95" fill="#d2d2d2"/>
<rect x="980.01" y="394.65" width="4.40" height="1.30" fill="#59A14F"/>
<rect x="985.40" y="393.75" width="6.40" height="2.95" fill="#d2d2d2"/>
<rect x="986.40" y="394.65" width="4.40" height="1.30" fill="#59A14F"/>
<rect x="991.80" y="387.13" width="6.40" height="9.57" fill="#d2d2d2"/>
<rect x="992.80" y="389.03" width="4.40" height="6.92" fill="#59A14F"/>
<rect x="1004.59" y="393.75" width="6.40" height="2.95" fill="#d2d2d2"/>
<rect x="1005.59" y="394.65" width="4.40" height="1.30" fill="#59A14F"/>
<rect x="1010.99" y="393.75" width="6.40" height="2.95" fill="#d2d2d2"/>
<rect x="1011.99" y="394.65" width="4.40" height="1.30" fill="#59A14F"/>
<rect x="1017.39" y="388.55" width="6.40" height="8.15" fill="#d2d2d2"/>
<rect x="1018.39" y="394.65" width="4.40" height="1.30" fill="#FABFD2"/>
<rect x="1018.39" y="390.45" width="4.40" height="2.36" fill="#59A14F"/>
<rect x="1030.18" y="393.75" width="6.40" height="2.95" fill="#d2d2d2"/>
<rect x="1031.18" y="394.65" width="4.40" height="1.30" fill="#FABFD2"/>
<rect x="1036.58" y="393.75" width="6.40" height="2.95" fill="#d2d2d2"/>
<rect x="1037.58" y="394.65" width="4.40" height="1.30" fill="#59A14F"/>
<rect x="1042.97" y="393.75" width="6.40" height="2.95" fill="#d2d2d2"/>
<rect x="1043.97" y="394.65" width="4.40" height="1.30" fill="#59A14F"/>
<rect x="1049.37" y="387.13" width="6.40" height="9.57" fill="#d2d2d2"/>
<rect x="1050.37" y="394.65" width="4.40" height="1.30" fill="#FABFD2"/>
<rect x="1050.37" y="389.03" width="4.40" height="3.78" fill="#59A14F"/>
<rect x="1055.76" y="387.13" width="6.40" height="9.57" fill="#d2d2d2"/>
<rect x="1056.76" y="389.03" width="4.40" height="6.92" fill="#59A14F"/>
<rect x="1068.56" y="391.39" width="6.40" height="5.31" fill="#d2d2d2"/>
<rect x="1069.56" y="393.29" width="4.40" height="2.66" fill="#59A14F"/>
<rect x="1074.95" y="389.97" width="6.40" height="6.73" fill="#d2d2d2"/>
<rect x="1075.95" y="391.87" width="4.40" height="4.08" fill="#59A14F"/>
<rect x="1081.35" y="391.39" width="6.40" height="5.31" fill="#d2d2d2"/>
<rect x="1082.35" y="393.29" width="4.40" height="2.66" fill="#59A14F"/>
<rect x="1094.14" y="389.97" width="6.40" height="6.73" fill="#d2d2d2"/>
<rect x="1095.14" y="391.87" width="4.40" height="4.08" fill="#59A14F"/>
<rect x="1100.54" y="393.75" width="6.40" height="2.95" fill="#d2d2d2"/>
<rect x="1101.54" y="394.65" width="4.40" height="1.30" fill="#59A14F"/>
<rect x="1106.94" y="393.75" width="6.40" height="2.95" fill="#d2d2d2"/>
<rect x="1107.94" y="394.65" width="4.40" height="1.30" fill="#59A14F"/>
<rect x="1113.33" y="387.13" width="6.40" height="9.57" fill="#d2d2d2"/>
<rect x="1114.33" y="389.03" width="4.40" height="6.92" fill="#59A14F"/>
<rect x="1119.73" y="393.75" width="6.40" height="2.95" fill="#d2d2d2"/>
<rect x="1120.73" y="394.65" width="4.40" height="1.30" fill="#59A14F"/>
<rect x="1126.13" y="388.55" width="6.40" height="8.15" fill="#d2d2d2"/>
<rect x="1127.13" y="390.45" width="4.40" height="5.50" fill="#59A14F"/>
<rect x="1132.52" y="388.55" width="6.40" height="8.15" fill="#d2d2d2"/>
<rect x="1133.52" y="390.45" width="4.40" height="5.50" fill="#59A14F"/>
<rect x="1138.92" y="393.75" width="6.40" height="2.95" fill="#d2d2d2"/>
<rect x="1139.92" y="394.65" width="4.40" height="1.30" fill="#59A14F"/>
<rect x="1145.31" y="387.13" width="6.40" height="9.57" fill="#d2d2d2"/>
<rect x="1146.31" y="394.65" width="4.40" height="1.30" fill="#FABFD2"/>
<rect x="1146.31" y="389.03" width="4.40" height="3.78" fill="#59A14F"/>
<rect x="1151.71" y="393.75" width="6.40" height="2.95" fill="#d2d2d2"/>
<rect x="1152.71" y="394.65" width="4.40" height="1.30" fill="#59A14F"/>
<rect x="1158.11" y="393.75" width="6.40" height="2.95" fill="#d2d2d2"/>
<rect x="1159.11" y="394.65" width="4.40" height="1.30" fill="#59A14F"/>
<rect x="1170.90" y="388.55" width="6.40" height="8.15" fill="#d2d2d2"/>
<rect x="1171.90" y="390.45" width="4.40" height="5.50" fill="#59A14F"/>
<rect x="1177.30" y="393.75" width="6.40" height="2.95" fill="#d2d2d2"/>
<rect x="1178.30" y="394.65" width="4.40" height="1.30" fill="#59A14F"/>
<rect x="1183.69" y="387.13" width="6.40" height="9.57" fill="#d2d2d2"/>
<rect x="1184.69" y="389.03" width="4.40" height="6.92" fill="#59A14F"/>
<rect x="1190.09" y="387.13" width="6.40" height="9.57" fill="#d2d2d2"/>
<rect x="1191.09" y="389.03" width="4.40" height="6.92" fill="#59A14F"/>
<rect x="1196.49" y="367.25" width="6.40" height="29.45" fill="#d2d2d2"/>
<rect x="1197.49" y="369.15" width="4.40" height="26.80" fill="#59A14F"/>
<rect x="1202.88" y="380.03" width="6.40" height="16.67" fill="#d2d2d2"/>
<rect x="1203.88" y="394.65" width="4.40" height="1.30" fill="#FABFD2"/>
<rect x="1203.88" y="381.93" width="4.40" height="10.88" fill="#59A14F"/>
<rect x="1209.28" y="393.75" width="6.40" height="2.95" fill="#d2d2d2"/>
<rect x="1210.28" y="394.65" width="4.40" height="1.30" fill="#59A14F"/>
<rect x="1228.47" y="374.35" width="6.40" height="22.35" fill="#d2d2d2"/>
<rect x="1229.47" y="376.25" width="4.40" height="19.70" fill="#59A14F"/>
<rect x="1234.86" y="393.75" width="6.40" height="2.95" fill="#d2d2d2"/>
<rect x="1235.86" y="394.65" width="4.40" height="1.30" fill="#59A14F"/>
<rect x="1241.26" y="393.75" width="6.40" height="2.95" fill="#d2d2d2"/>
<rect x="1242.26" y="394.65" width="4.40" height="1.30" fill="#59A14F"/>
<rect x="1247.66" y="393.75" width="6.40" height="2.95" fill="#d2d2d2"/>
<rect x="1248.66" y="394.65" width="4.40" height="1.30" fill="#59A14F"/>
<rect x="1254.05" y="393.75" width="6.40" height="2.95" fill="#d2d2d2"/>
<rect x="1255.05" y="394.65" width="4.40" height="1.30" fill="#FABFD2"/>
<rect x="1260.45" y="392.81" width="6.40" height="3.89" fill="#d2d2d2"/>
<rect x="1261.45" y="394.65" width="4.40" height="1.30" fill="#59A14F"/>
<rect x="1266.85" y="393.75" width="6.40" height="2.95" fill="#d2d2d2"/>
<rect x="1267.85" y="394.65" width="4.40" height="1.30" fill="#59A14F"/>
<rect x="1279.64" y="382.87" width="6.40" height="13.83" fill="#d2d2d2"/>
<rect x="1280.64" y="384.77" width="4.40" height="11.18" fill="#59A14F"/>
<rect x="1292.43" y="394.23" width="6.40" height="2.47" fill="#d2d2d2"/>
<rect x="1305.22" y="391.39" width="6.40" height="5.31" fill="#d2d2d2"/>
<rect x="1306.22" y="393.29" width="4.40" height="2.66" fill="#59A14F"/>
<rect x="1311.62" y="388.55" width="6.40" height="8.15" fill="#d2d2d2"/>
<rect x="1312.62" y="390.45" width="4.40" height="5.50" fill="#59A14F"/>
<rect x="1324.41" y="387.13" width="6.40" height="9.57" fill="#d2d2d2"/>
<rect x="1325.41" y="389.03" width="4.40" height="6.92" fill="#59A14F"/>
<rect x="1337.21" y="391.39" width="6.40" height="5.31" fill="#d2d2d2"/>
<rect x="1338.21" y="393.29" width="4.40" height="2.66" fill="#59A14F"/>
<rect x="1350.00" y="392.81" width="6.40" height="3.89" fill="#d2d2d2"/>
<rect x="1351.00" y="394.65" width="4.40" height="1.30" fill="#59A14F"/>
<rect x="1362.79" y="388.55" width="6.40" height="8.15" fill="#d2d2d2"/>
<rect x="1363.79" y="390.45" width="4.40" height="5.50" fill="#59A14F"/>
<rect x="1369.19" y="377.19" width="6.40" height="19.51" fill="#d2d2d2"/>
<rect x="1370.19" y="394.65" width="4.40" height="1.30" fill="#FABFD2"/>
<rect x="1370.19" y="379.09" width="4.40" height="13.72" fill="#59A14F"/>
<rect x="1388.38" y="387.13" width="6.40" height="9.57" fill="#d2d2d2"/>
<rect x="1389.38" y="389.03" width="4.40" height="6.92" fill="#59A14F"/>
<rect x="1394.77" y="384.29" width="6.40" height="12.41" fill="#d2d2d2"/>
<rect x="1395.77" y="386.19" width="4.40" height="9.76" fill="#59A14F"/>
<rect x="1407.57" y="387.13" width="6.40" height="9.57" fill="#d2d2d2"/>
<rect x="1408.57" y="389.03" width="4.40" height="6.92" fill="#59A14F"/>
<rect x="1413.96" y="382.87" width="6.40" height="13.83" fill="#d2d2d2"/>
<rect x="1414.96" y="384.77" width="4.40" height="11.18" fill="#59A14F"/>
<rect x="1426.76" y="391.39" width="6.40" height="5.31" fill="#d2d2d2"/>
<rect x="1427.76" y="393.29" width="4.40" height="2.66" fill="#59A14F"/>
<rect x="1433.15" y="382.87" width="6.40" height="13.83" fill="#d2d2d2"/>
<rect x="1434.15" y="394.65" width="4.40" height="1.30" fill="#FABFD2"/>
<rect x="1434.15" y="384.77" width="4.40" height="8.04" fill="#59A14F"/>
<rect x="1445.95" y="387.13" width="6.40" height="9.57" fill="#d2d2d2"/>
<rect x="1446.95" y="389.03" width="4.40" height="6.92" fill="#59A14F"/>
<rect x="1452.34" y="388.55" width="6.40" height="8.15" fill="#d2d2d2"/>
<rect x="1453.34" y="390.45" width="4.40" height="5.50" fill="#59A14F"/>
<rect x="1458.74" y="388.55" width="6.40" height="8.15" fill="#d2d2d2"/>
<rect x="1459.74" y="390.45" width="4.40" height="5.50" fill="#4E79A7"/>
<rect x="1465.13" y="391.39" width="6.40" height="5.31" fill="#d2d2d2"/>
<rect x="1466.13" y="393.29" width="4.40" height="2.66" fill="#59A14F"/>
<rect x="1471.53" y="392.81" width="6.40" height="3.89" fill="#d2d2d2"/>
<rect x="1477.93" y="389.97" width="6.40" height="6.73" fill="#d2d2d2"/>
<rect x="1478.93" y="391.87" width="4.40" height="4.08" fill="#59A14F"/>
<rect x="1490.72" y="389.97" width="6.40" height="6.73" fill="#d2d2d2"/>
<rect x="1491.72" y="391.87" width="4.40" height="4.08" fill="#59A14F"/>
<rect x="1497.12" y="392.81" width="6.40" height="3.89" fill="#d2d2d2"/>
<rect x="1498.12" y="394.65" width="4.40" height="1.30" fill="#59A14F"/>
<rect x="1503.51" y="389.97" width="6.40" height="6.73" fill="#d2d2d2"/>
<rect x="1504.51" y="391.87" width="4.40" height="4.08" fill="#59A14F"/>
<rect x="1509.91" y="393.75" width="6.40" height="2.95" fill="#d2d2d2"/>
<rect x="1510.91" y="394.65" width="4.40" height="1.30" fill="#59A14F"/>
<rect x="1516.31" y="393.75" width="6.40" height="2.95" fill="#d2d2d2"/>
<rect x="1517.31" y="394.65" width="4.40" height="1.30" fill="#59A14F"/>
<rect x="1522.70" y="393.75" width="6.40" height="2.95" fill="#d2d2d2"/>
<rect x="1523.70" y="394.65" width="4.40" height="1.30" fill="#59A14F"/>
<rect x="1529.10" y="393.75" width="6.40" height="2.95" fill="#d2d2d2"/>
<rect x="1530.10" y="394.65" width="4.40" height="1.30" fill="#59A14F"/>
<rect x="1535.49" y="393.75" width="6.40" height="2.95" fill="#d2d2d2"/>
<rect x="1536.49" y="394.65" width="4.40" height="1.30" fill="#59A14F"/>
<rect x="1541.89" y="391.39" width="6.40" height="5.31" fill="#d2d2d2"/>
<rect x="1542.89" y="393.29" width="4.40" height="2.66" fill="#59A14F"/>
<rect x="1548.29" y="393.75" width="6.40" height="2.95" fill="#d2d2d2"/>
<rect x="1549.29" y="394.65" width="4.40" height="1.30" fill="#59A14F"/>
<rect x="1554.68" y="393.75" width="6.40" height="2.95" fill="#d2d2d2"/>
<rect x="1555.68" y="394.65" width="4.40" height="1.30" fill="#59A14F"/>
<rect x="1567.48" y="393.75" width="6.40" height="2.95" fill="#d2d2d2"/>
<rect x="1568.48" y="394.65" width="4.40" height="1.30" fill="#59A14F"/>
<rect x="1573.87" y="393.75" width="6.40" height="2.95" fill="#d2d2d2"/>
<rect x="1574.87" y="394.65" width="4.40" height="1.30" fill="#59A14F"/>
<rect x="1580.27" y="389.97" width="6.40" height="6.73" fill="#d2d2d2"/>
<rect x="1581.27" y="391.87" width="4.40" height="4.08" fill="#59A14F"/>
<rect x="1599.46" y="391.39" width="6.40" height="5.31" fill="#d2d2d2"/>
<rect x="1600.46" y="393.29" width="4.40" height="2.66" fill="#59A14F"/>
<rect x="371.35" y="485.21" width="6.40" height="8.69" fill="#d2d2d2"/>
<rect x="372.35" y="487.11" width="4.40" height="6.04" fill="#59A14F"/>
<rect x="377.75" y="483.55" width="6.40" height="10.35" fill="#d2d2d2"/>
<rect x="378.75" y="485.45" width="4.40" height="7.70" fill="#59A14F"/>
<rect x="384.14" y="483.55" width="6.40" height="10.35" fill="#d2d2d2"/>
<rect x="385.14" y="485.45" width="4.40" height="7.70" fill="#59A14F"/>
<rect x="390.54" y="490.19" width="6.40" height="3.71" fill="#d2d2d2"/>
<rect x="396.94" y="483.55" width="6.40" height="10.35" fill="#d2d2d2"/>
<rect x="397.94" y="485.45" width="4.40" height="7.70" fill="#59A14F"/>
<rect x="403.33" y="490.19" width="6.40" height="3.71" fill="#d2d2d2"/>
<rect x="404.33" y="491.85" width="4.40" height="1.30" fill="#59A14F"/>
<rect x="409.73" y="481.89" width="6.40" height="12.01" fill="#d2d2d2"/>
<rect x="410.73" y="490.43" width="4.40" height="2.72" fill="#FABFD2"/>
<rect x="410.73" y="483.79" width="4.40" height="4.74" fill="#59A14F"/>
<rect x="416.12" y="490.19" width="6.40" height="3.71" fill="#d2d2d2"/>
<rect x="428.92" y="475.25" width="6.40" height="18.65" fill="#d2d2d2"/>
<rect x="429.92" y="485.45" width="4.40" height="7.70" fill="#4E79A7"/>
<rect x="429.92" y="477.15" width="4.40" height="6.40" fill="#59A14F"/>
<rect x="435.31" y="483.55" width="6.40" height="10.35" fill="#d2d2d2"/>
<rect x="436.31" y="485.45" width="4.40" height="7.70" fill="#59A14F"/>
<rect x="441.71" y="476.91" width="6.40" height="16.99" fill="#d2d2d2"/>
<rect x="442.71" y="478.81" width="4.40" height="14.34" fill="#59A14F"/>
<rect x="448.11" y="490.19" width="6.40" height="3.71" fill="#d2d2d2"/>
<rect x="449.11" y="491.85" width="4.40" height="1.30" fill="#59A14F"/>
<rect x="473.69" y="466.95" width="6.40" height="26.95" fill="#d2d2d2"/>
<rect x="474.69" y="491.85" width="4.40" height="1.30" fill="#4E79A7"/>
<rect x="474.69" y="483.79" width="4.40" height="6.40" fill="#FABFD2"/>
<rect x="474.69" y="468.85" width="4.40" height="13.04" fill="#59A14F"/>
<rect x="480.09" y="488.53" width="6.40" height="5.37" fill="#d2d2d2"/>
<rect x="481.09" y="490.43" width="4.40" height="2.72" fill="#59A14F"/>
<rect x="518.47" y="481.89" width="6.40" height="12.01" fill="#d2d2d2"/>
<rect x="519.47" y="483.79" width="4.40" height="9.36" fill="#59A14F"/>
<rect x="531.26" y="483.55" width="6.40" height="10.35" fill="#d2d2d2"/>
<rect x="532.26" y="485.45" width="4.40" height="7.70" fill="#59A14F"/>
<rect x="544.05" y="488.53" width="6.40" height="5.37" fill="#d2d2d2"/>
<rect x="545.05" y="490.43" width="4.40" height="2.72" fill="#59A14F"/>
<rect x="556.85" y="471.93" width="6.40" height="21.97" fill="#d2d2d2"/>
<rect x="557.85" y="490.43" width="4.40" height="2.72" fill="#FABFD2"/>
<rect x="557.85" y="473.83" width="4.40" height="14.70" fill="#59A14F"/>
<rect x="569.64" y="480.23" width="6.40" height="13.67" fill="#d2d2d2"/>
<rect x="570.64" y="490.43" width="4.40" height="2.72" fill="#FABFD2"/>
<rect x="570.64" y="482.13" width="4.40" height="6.40" fill="#59A14F"/>
<rect x="576.03" y="443.71" width="6.40" height="50.19" fill="#d2d2d2"/>
<rect x="577.03" y="445.61" width="4.40" height="47.54" fill="#59A14F"/>
<rect x="582.43" y="480.23" width="6.40" height="13.67" fill="#d2d2d2"/>
<rect x="583.43" y="482.13" width="4.40" height="11.02" fill="#59A14F"/>
<rect x="588.83" y="485.21" width="6.40" height="8.69" fill="#d2d2d2"/>
<rect x="589.83" y="487.11" width="4.40" height="6.04" fill="#59A14F"/>
<rect x="601.62" y="480.23" width="6.40" height="13.67" fill="#d2d2d2"/>
<rect x="602.62" y="490.43" width="4.40" height="2.72" fill="#FABFD2"/>
<rect x="602.62" y="482.13" width="4.40" height="6.40" fill="#59A14F"/>
<rect x="614.41" y="478.57" width="6.40" height="15.33" fill="#d2d2d2"/>
<rect x="615.41" y="490.43" width="4.40" height="2.72" fill="#FABFD2"/>
<rect x="615.41" y="480.47" width="4.40" height="8.06" fill="#59A14F"/>
<rect x="627.21" y="490.19" width="6.40" height="3.71" fill="#d2d2d2"/>
<rect x="659.19" y="461.97" width="6.40" height="31.93" fill="#d2d2d2"/>
<rect x="660.19" y="490.43" width="4.40" height="2.72" fill="#4E79A7"/>
<rect x="660.19" y="463.87" width="4.40" height="24.66" fill="#59A14F"/>
<rect x="684.77" y="476.91" width="6.40" height="16.99" fill="#d2d2d2"/>
<rect x="685.77" y="478.81" width="4.40" height="14.34" fill="#59A14F"/>
<rect x="691.17" y="417.15" width="6.40" height="76.75" fill="#d2d2d2"/>
<rect x="692.17" y="419.05" width="4.40" height="74.10" fill="#59A14F"/>
<rect x="697.57" y="475.25" width="6.40" height="18.65" fill="#d2d2d2"/>
<rect x="698.57" y="491.85" width="4.40" height="1.30" fill="#FABFD2"/>
<rect x="698.57" y="477.15" width="4.40" height="13.04" fill="#59A14F"/>
<rect x="703.96" y="448.69" width="6.40" height="45.21" fill="#d2d2d2"/>
<rect x="704.96" y="491.85" width="4.40" height="1.30" fill="#4E79A7"/>
<rect x="704.96" y="450.59" width="4.40" height="39.60" fill="#59A14F"/>
<rect x="710.36" y="402.21" width="6.40" height="91.69" fill="#d2d2d2"/>
<rect x="711.36" y="485.45" width="4.40" height="7.70" fill="#4E79A7"/>
<rect x="711.36" y="478.81" width="4.40" height="4.74" fill="#FF9D9A"/>
<rect x="711.36" y="404.11" width="4.40" height="72.80" fill="#59A14F"/>
<rect x="716.76" y="410.51" width="6.40" height="83.39" fill="#d2d2d2"/>
<rect x="717.76" y="487.11" width="4.40" height="6.04" fill="#4E79A7"/>
<rect x="717.76" y="412.41" width="4.40" height="72.80" fill="#59A14F"/>
<rect x="723.15" y="478.57" width="6.40" height="15.33" fill="#d2d2d2"/>
<rect x="724.15" y="480.47" width="4.40" height="9.72" fill="#59A14F"/>
<rect x="729.55" y="490.19" width="6.40" height="3.71" fill="#d2d2d2"/>
<rect x="735.94" y="425.45" width="6.40" height="68.45" fill="#d2d2d2"/>
<rect x="736.94" y="477.15" width="4.40" height="16.00" fill="#4E79A7"/>
<rect x="736.94" y="427.35" width="4.40" height="47.90" fill="#59A14F"/>
<rect x="742.34" y="490.19" width="6.40" height="3.71" fill="#d2d2d2"/>
<rect x="743.34" y="491.85" width="4.40" height="1.30" fill="#59A14F"/>
<rect x="748.74" y="481.89" width="6.40" height="12.01" fill="#d2d2d2"/>
<rect x="749.74" y="483.79" width="4.40" height="9.36" fill="#59A14F"/>
<rect x="755.13" y="481.89" width="6.40" height="12.01" fill="#d2d2d2"/>
<rect x="756.13" y="483.79" width="4.40" height="9.36" fill="#59A14F"/>
<rect x="767.93" y="490.19" width="6.40" height="3.71" fill="#d2d2d2"/>
<rect x="774.32" y="483.55" width="6.40" height="10.35" fill="#d2d2d2"/>
<rect x="775.32" y="491.85" width="4.40" height="1.30" fill="#FABFD2"/>
<rect x="775.32" y="485.45" width="4.40" height="4.74" fill="#59A14F"/>
<rect x="780.72" y="468.61" width="6.40" height="25.29" fill="#d2d2d2"/>
<rect x="781.72" y="470.51" width="4.40" height="22.64" fill="#59A14F"/>
<rect x="787.12" y="483.55" width="6.40" height="10.35" fill="#d2d2d2"/>
<rect x="788.12" y="485.45" width="4.40" height="7.70" fill="#59A14F"/>
<rect x="793.51" y="481.89" width="6.40" height="12.01" fill="#d2d2d2"/>
<rect x="794.51" y="483.79" width="4.40" height="9.36" fill="#59A14F"/>
<rect x="799.91" y="490.19" width="6.40" height="3.71" fill="#d2d2d2"/>
<rect x="806.31" y="470.27" width="6.40" height="23.63" fill="#d2d2d2"/>
<rect x="807.31" y="490.43" width="4.40" height="2.72" fill="#4E79A7"/>
<rect x="807.31" y="472.17" width="4.40" height="16.36" fill="#59A14F"/>
<rect x="812.70" y="483.55" width="6.40" height="10.35" fill="#d2d2d2"/>
<rect x="813.70" y="485.45" width="4.40" height="7.70" fill="#59A14F"/>
<rect x="819.10" y="476.91" width="6.40" height="16.99" fill="#d2d2d2"/>
<rect x="820.10" y="491.85" width="4.40" height="1.30" fill="#FABFD2"/>
<rect x="820.10" y="478.81" width="4.40" height="11.38" fill="#59A14F"/>
<rect x="825.49" y="490.19" width="6.40" height="3.71" fill="#d2d2d2"/>
<rect x="831.89" y="483.55" width="6.40" height="10.35" fill="#d2d2d2"/>
<rect x="832.89" y="485.45" width="4.40" height="7.70" fill="#59A14F"/>
<rect x="838.29" y="471.93" width="6.40" height="21.97" fill="#d2d2d2"/>
<rect x="839.29" y="473.83" width="4.40" height="19.32" fill="#59A14F"/>
<rect x="844.68" y="490.19" width="6.40" height="3.71" fill="#d2d2d2"/>
<rect x="851.08" y="483.55" width="6.40" height="10.35" fill="#d2d2d2"/>
<rect x="852.08" y="485.45" width="4.40" height="7.70" fill="#59A14F"/>
<rect x="857.48" y="485.21" width="6.40" height="8.69" fill="#d2d2d2"/>
<rect x="858.48" y="487.11" width="4.40" height="6.04" fill="#59A14F"/>
<rect x="863.87" y="486.87" width="6.40" height="7.03" fill="#d2d2d2"/>
<rect x="864.87" y="488.77" width="4.40" height="4.38" fill="#59A14F"/>
<rect x="870.27" y="478.57" width="6.40" height="15.33" fill="#d2d2d2"/>
<rect x="871.27" y="491.85" width="4.40" height="1.30" fill="#FABFD2"/>
<rect x="871.27" y="480.47" width="4.40" height="9.72" fill="#59A14F"/>
<rect x="876.67" y="438.73" width="6.40" height="55.17" fill="#d2d2d2"/>
<rect x="877.67" y="491.85" width="4.40" height="1.30" fill="#4E79A7"/>
<rect x="877.67" y="440.63" width="4.40" height="49.56" fill="#59A14F"/>
<rect x="883.06" y="463.63" width="6.40" height="30.27" fill="#d2d2d2"/>
<rect x="884.06" y="465.53" width="4.40" height="27.62" fill="#59A14F"/>
<rect x="889.46" y="410.51" width="6.40" height="83.39" fill="#d2d2d2"/>
<rect x="890.46" y="488.77" width="4.40" height="4.38" fill="#4E79A7"/>
<rect x="890.46" y="412.41" width="4.40" height="74.46" fill="#59A14F"/>
<rect x="895.85" y="480.23" width="6.40" height="13.67" fill="#d2d2d2"/>
<rect x="896.85" y="482.13" width="4.40" height="11.02" fill="#59A14F"/>
<rect x="902.25" y="488.53" width="6.40" height="5.37" fill="#d2d2d2"/>
<rect x="915.04" y="490.19" width="6.40" height="3.71" fill="#d2d2d2"/>
<rect x="921.44" y="488.53" width="6.40" height="5.37" fill="#d2d2d2"/>
<rect x="922.44" y="490.43" width="4.40" height="2.72" fill="#59A14F"/>
<rect x="927.84" y="490.19" width="6.40" height="3.71" fill="#d2d2d2"/>
<rect x="934.23" y="486.87" width="6.40" height="7.03" fill="#d2d2d2"/>
<rect x="935.23" y="488.77" width="4.40" height="4.38" fill="#59A14F"/>
<rect x="940.63" y="481.89" width="6.40" height="12.01" fill="#d2d2d2"/>
<rect x="941.63" y="483.79" width="4.40" height="9.36" fill="#59A14F"/>
<rect x="947.03" y="490.19" width="6.40" height="3.71" fill="#d2d2d2"/>
<rect x="959.82" y="471.93" width="6.40" height="21.97" fill="#d2d2d2"/>
<rect x="960.82" y="491.85" width="4.40" height="1.30" fill="#FABFD2"/>
<rect x="960.82" y="473.83" width="4.40" height="16.36" fill="#59A14F"/>
<rect x="966.22" y="437.07" width="6.40" height="56.83" fill="#d2d2d2"/>
<rect x="967.22" y="490.43" width="4.40" height="2.72" fill="#FABFD2"/>
<rect x="967.22" y="438.97" width="4.40" height="49.56" fill="#59A14F"/>
<rect x="972.61" y="481.89" width="6.40" height="12.01" fill="#d2d2d2"/>
<rect x="973.61" y="483.79" width="4.40" height="9.36" fill="#59A14F"/>
<rect x="985.40" y="481.89" width="6.40" height="12.01" fill="#d2d2d2"/>
<rect x="986.40" y="483.79" width="4.40" height="9.36" fill="#59A14F"/>
<rect x="991.80" y="465.29" width="6.40" height="28.61" fill="#d2d2d2"/>
<rect x="992.80" y="467.19" width="4.40" height="25.96" fill="#59A14F"/>
<rect x="1004.59" y="490.19" width="6.40" height="3.71" fill="#d2d2d2"/>
<rect x="1023.78" y="490.19" width="6.40" height="3.71" fill="#d2d2d2"/>
<rect x="1024.78" y="491.85" width="4.40" height="1.30" fill="#59A14F"/>
<rect x="1030.18" y="483.55" width="6.40" height="10.35" fill="#d2d2d2"/>
<rect x="1031.18" y="485.45" width="4.40" height="7.70" fill="#59A14F"/>
<rect x="1042.97" y="490.19" width="6.40" height="3.71" fill="#d2d2d2"/>
<rect x="1049.37" y="452.01" width="6.40" height="41.89" fill="#d2d2d2"/>
<rect x="1050.37" y="491.85" width="4.40" height="1.30" fill="#FABFD2"/>
<rect x="1050.37" y="453.91" width="4.40" height="36.28" fill="#59A14F"/>
<rect x="1055.76" y="480.23" width="6.40" height="13.67" fill="#d2d2d2"/>
<rect x="1056.76" y="482.13" width="4.40" height="11.02" fill="#59A14F"/>
<rect x="1062.16" y="478.57" width="6.40" height="15.33" fill="#d2d2d2"/>
<rect x="1063.16" y="480.47" width="4.40" height="12.68" fill="#59A14F"/>
<rect x="1068.56" y="480.23" width="6.40" height="13.67" fill="#d2d2d2"/>
<rect x="1069.56" y="482.13" width="4.40" height="11.02" fill="#59A14F"/>
<rect x="1074.95" y="483.55" width="6.40" height="10.35" fill="#d2d2d2"/>
<rect x="1075.95" y="485.45" width="4.40" height="7.70" fill="#59A14F"/>
<rect x="1081.35" y="470.27" width="6.40" height="23.63" fill="#d2d2d2"/>
<rect x="1082.35" y="472.17" width="4.40" height="18.02" fill="#59A14F"/>
<rect x="1106.94" y="481.89" width="6.40" height="12.01" fill="#d2d2d2"/>
<rect x="1107.94" y="483.79" width="4.40" height="9.36" fill="#59A14F"/>
<rect x="1113.33" y="480.23" width="6.40" height="13.67" fill="#d2d2d2"/>
<rect x="1114.33" y="482.13" width="4.40" height="11.02" fill="#59A14F"/>
<rect x="1119.73" y="481.89" width="6.40" height="12.01" fill="#d2d2d2"/>
<rect x="1120.73" y="483.79" width="4.40" height="9.36" fill="#59A14F"/>
<rect x="1126.13" y="486.87" width="6.40" height="7.03" fill="#d2d2d2"/>
<rect x="1127.13" y="488.77" width="4.40" height="4.38" fill="#59A14F"/>
<rect x="1138.92" y="478.57" width="6.40" height="15.33" fill="#d2d2d2"/>
<rect x="1139.92" y="480.47" width="4.40" height="12.68" fill="#59A14F"/>
<rect x="1145.31" y="480.23" width="6.40" height="13.67" fill="#d2d2d2"/>
<rect x="1146.31" y="482.13" width="4.40" height="11.02" fill="#59A14F"/>
<rect x="1151.71" y="486.87" width="6.40" height="7.03" fill="#d2d2d2"/>
<rect x="1152.71" y="488.77" width="4.40" height="4.38" fill="#59A14F"/>
<rect x="1158.11" y="490.19" width="6.40" height="3.71" fill="#d2d2d2"/>
<rect x="1159.11" y="491.85" width="4.40" height="1.30" fill="#59A14F"/>
<rect x="1164.50" y="481.89" width="6.40" height="12.01" fill="#d2d2d2"/>
<rect x="1165.50" y="483.79" width="4.40" height="6.40" fill="#59A14F"/>
<rect x="1177.30" y="486.87" width="6.40" height="7.03" fill="#d2d2d2"/>
<rect x="1178.30" y="488.77" width="4.40" height="4.38" fill="#59A14F"/>
<rect x="1196.49" y="486.87" width="6.40" height="7.03" fill="#d2d2d2"/>
<rect x="1197.49" y="488.77" width="4.40" height="4.38" fill="#59A14F"/>
<rect x="1209.28" y="480.23" width="6.40" height="13.67" fill="#d2d2d2"/>
<rect x="1210.28" y="482.13" width="4.40" height="11.02" fill="#59A14F"/>
<rect x="1215.67" y="481.89" width="6.40" height="12.01" fill="#d2d2d2"/>
<rect x="1216.67" y="483.79" width="4.40" height="9.36" fill="#59A14F"/>
<rect x="1228.47" y="433.75" width="6.40" height="60.15" fill="#d2d2d2"/>
<rect x="1229.47" y="435.65" width="4.40" height="54.54" fill="#59A14F"/>
<rect x="1241.26" y="475.25" width="6.40" height="18.65" fill="#d2d2d2"/>
<rect x="1242.26" y="477.15" width="4.40" height="16.00" fill="#59A14F"/>
<rect x="1254.05" y="485.21" width="6.40" height="8.69" fill="#d2d2d2"/>
<rect x="1255.05" y="487.11" width="4.40" height="6.04" fill="#59A14F"/>
<rect x="1266.85" y="490.19" width="6.40" height="3.71" fill="#d2d2d2"/>
<rect x="1267.85" y="491.85" width="4.40" height="1.30" fill="#59A14F"/>
<rect x="1273.24" y="481.89" width="6.40" height="12.01" fill="#d2d2d2"/>
<rect x="1274.24" y="483.79" width="4.40" height="9.36" fill="#59A14F"/>
<rect x="1279.64" y="456.99" width="6.40" height="36.91" fill="#d2d2d2"/>
<rect x="1280.64" y="458.89" width="4.40" height="34.26" fill="#59A14F"/>
<rect x="1305.22" y="490.19" width="6.40" height="3.71" fill="#d2d2d2"/>
<rect x="1306.22" y="491.85" width="4.40" height="1.30" fill="#59A14F"/>
<rect x="1318.02" y="483.55" width="6.40" height="10.35" fill="#d2d2d2"/>
<rect x="1319.02" y="485.45" width="4.40" height="7.70" fill="#59A14F"/>
<rect x="1324.41" y="480.23" width="6.40" height="13.67" fill="#d2d2d2"/>
<rect x="1325.41" y="491.85" width="4.40" height="1.30" fill="#FABFD2"/>
<rect x="1325.41" y="482.13" width="4.40" height="8.06" fill="#59A14F"/>
<rect x="1330.81" y="471.93" width="6.40" height="21.97" fill="#d2d2d2"/>
<rect x="1331.81" y="473.83" width="4.40" height="19.32" fill="#59A14F"/>
<rect x="1337.21" y="461.97" width="6.40" height="31.93" fill="#d2d2d2"/>
<rect x="1338.21" y="463.87" width="4.40" height="29.28" fill="#59A14F"/>
<rect x="1343.60" y="486.87" width="6.40" height="7.03" fill="#d2d2d2"/>
<rect x="1344.60" y="488.77" width="4.40" height="4.38" fill="#59A14F"/>
<rect x="1356.40" y="478.57" width="6.40" height="15.33" fill="#d2d2d2"/>
<rect x="1357.40" y="480.47" width="4.40" height="9.72" fill="#59A14F"/>
<rect x="1362.79" y="490.19" width="6.40" height="3.71" fill="#d2d2d2"/>
<rect x="1363.79" y="491.85" width="4.40" height="1.30" fill="#59A14F"/>
<rect x="1369.19" y="476.91" width="6.40" height="16.99" fill="#d2d2d2"/>
<rect x="1370.19" y="478.81" width="4.40" height="14.34" fill="#59A14F"/>
<rect x="1388.38" y="476.91" width="6.40" height="16.99" fill="#d2d2d2"/>
<rect x="1389.38" y="490.43" width="4.40" height="2.72" fill="#FABFD2"/>
<rect x="1389.38" y="478.81" width="4.40" height="9.72" fill="#59A14F"/>
<rect x="1394.77" y="480.23" width="6.40" height="13.67" fill="#d2d2d2"/>
<rect x="1395.77" y="482.13" width="4.40" height="11.02" fill="#59A14F"/>
<rect x="1401.17" y="480.23" width="6.40" height="13.67" fill="#d2d2d2"/>
<rect x="1402.17" y="482.13" width="4.40" height="11.02" fill="#59A14F"/>
<rect x="1407.57" y="486.87" width="6.40" height="7.03" fill="#d2d2d2"/>
<rect x="1408.57" y="488.77" width="4.40" height="4.38" fill="#59A14F"/>
<rect x="1413.96" y="483.55" width="6.40" height="10.35" fill="#d2d2d2"/>
<rect x="1414.96" y="485.45" width="4.40" height="7.70" fill="#59A14F"/>
<rect x="1420.36" y="483.55" width="6.40" height="10.35" fill="#d2d2d2"/>
<rect x="1421.36" y="485.45" width="4.40" height="7.70" fill="#59A14F"/>
<rect x="1433.15" y="480.23" width="6.40" height="13.67" fill="#d2d2d2"/>
<rect x="1434.15" y="482.13" width="4.40" height="11.02" fill="#59A14F"/>
<rect x="1439.55" y="483.55" width="6.40" height="10.35" fill="#d2d2d2"/>
<rect x="1440.55" y="485.45" width="4.40" height="7.70" fill="#59A14F"/>
<rect x="1445.95" y="471.93" width="6.40" height="21.97" fill="#d2d2d2"/>
<rect x="1446.95" y="473.83" width="4.40" height="19.32" fill="#59A14F"/>
<rect x="1452.34" y="466.95" width="6.40" height="26.95" fill="#d2d2d2"/>
<rect x="1453.34" y="491.85" width="4.40" height="1.30" fill="#4E79A7"/>
<rect x="1453.34" y="468.85" width="4.40" height="21.34" fill="#59A14F"/>
<rect x="1465.13" y="490.19" width="6.40" height="3.71" fill="#d2d2d2"/>
<rect x="1466.13" y="491.85" width="4.40" height="1.30" fill="#59A14F"/>
<rect x="1471.53" y="465.29" width="6.40" height="28.61" fill="#d2d2d2"/>
<rect x="1472.53" y="487.11" width="4.40" height="6.04" fill="#4E79A7"/>
<rect x="1472.53" y="467.19" width="4.40" height="18.02" fill="#59A14F"/>
<rect x="1477.93" y="480.23" width="6.40" height="13.67" fill="#d2d2d2"/>
<rect x="1478.93" y="482.13" width="4.40" height="11.02" fill="#59A14F"/>
<rect x="1503.51" y="438.73" width="6.40" height="55.17" fill="#d2d2d2"/>
<rect x="1504.51" y="440.63" width="4.40" height="52.52" fill="#59A14F"/>
<rect x="1509.91" y="460.31" width="6.40" height="33.59" fill="#d2d2d2"/>
<rect x="1510.91" y="462.21" width="4.40" height="27.98" fill="#59A14F"/>
<rect x="1516.31" y="453.67" width="6.40" height="40.23" fill="#d2d2d2"/>
<rect x="1517.31" y="455.57" width="4.40" height="32.96" fill="#59A14F"/>
<rect x="1522.70" y="471.93" width="6.40" height="21.97" fill="#d2d2d2"/>
<rect x="1523.70" y="473.83" width="4.40" height="19.32" fill="#59A14F"/>
<rect x="1529.10" y="480.23" width="6.40" height="13.67" fill="#d2d2d2"/>
<rect x="1530.10" y="482.13" width="4.40" height="11.02" fill="#59A14F"/>
<rect x="1541.89" y="480.23" width="6.40" height="13.67" fill="#d2d2d2"/>
<rect x="1542.89" y="482.13" width="4.40" height="11.02" fill="#59A14F"/>
<rect x="1548.29" y="466.95" width="6.40" height="26.95" fill="#d2d2d2"/>
<rect x="1549.29" y="468.85" width="4.40" height="24.30" fill="#59A14F"/>
<rect x="1554.68" y="442.05" width="6.40" height="51.85" fill="#d2d2d2"/>
<rect x="1555.68" y="443.95" width="4.40" height="46.24" fill="#59A14F"/>
<rect x="1561.08" y="425.45" width="6.40" height="68.45" fill="#d2d2d2"/>
<rect x="1562.08" y="491.85" width="4.40" height="1.30" fill="#4E79A7"/>
<rect x="1562.08" y="488.77" width="4.40" height="1.42" fill="#FABFD2"/>
<rect x="1562.08" y="427.35" width="4.40" height="59.52" fill="#59A14F"/>
<rect x="1567.48" y="445.37" width="6.40" height="48.53" fill="#d2d2d2"/>
<rect x="1568.48" y="447.27" width="4.40" height="45.88" fill="#59A14F"/>
<rect x="1573.87" y="445.37" width="6.40" height="48.53" fill="#d2d2d2"/>
<rect x="1574.87" y="447.27" width="4.40" height="45.88" fill="#59A14F"/>
<rect x="1580.27" y="481.89" width="6.40" height="12.01" fill="#d2d2d2"/>
<rect x="1581.27" y="483.79" width="4.40" height="9.36" fill="#59A14F"/>
<rect x="1586.67" y="486.87" width="6.40" height="7.03" fill="#d2d2d2"/>
<rect x="1587.67" y="488.77" width="4.40" height="4.38" fill="#59A14F"/>
<rect x="1599.46" y="486.87" width="6.40" height="7.03" fill="#d2d2d2"/>
<rect x="1600.46" y="488.77" width="4.40" height="4.38" fill="#59A14F"/>
<rect x="531.26" y="518.95" width="6.40" height="71.15" fill="#d2d2d2"/>
<rect x="532.26" y="584.55" width="4.40" height="4.80" fill="#FABFD2"/>
<rect x="532.26" y="520.85" width="4.40" height="61.80" fill="#59A14F"/>
<rect x="537.66" y="557.95" width="6.40" height="32.15" fill="#d2d2d2"/>
<rect x="538.66" y="585.85" width="4.40" height="3.50" fill="#FABFD2"/>
<rect x="538.66" y="559.85" width="4.40" height="24.10" fill="#59A14F"/>
<rect x="544.05" y="555.35" width="6.40" height="34.75" fill="#d2d2d2"/>
<rect x="545.05" y="557.25" width="4.40" height="30.60" fill="#59A14F"/>
<rect x="550.45" y="582.65" width="6.40" height="7.45" fill="#d2d2d2"/>
<rect x="551.45" y="584.55" width="4.40" height="4.80" fill="#59A14F"/>
<rect x="601.62" y="578.75" width="6.40" height="11.35" fill="#d2d2d2"/>
<rect x="602.62" y="580.65" width="4.40" height="8.70" fill="#59A14F"/>
<rect x="608.02" y="586.55" width="6.40" height="3.55" fill="#d2d2d2"/>
<rect x="609.02" y="588.05" width="4.40" height="1.30" fill="#59A14F"/>
<rect x="614.41" y="582.65" width="6.40" height="7.45" fill="#d2d2d2"/>
<rect x="615.41" y="584.55" width="4.40" height="4.80" fill="#59A14F"/>
<rect x="620.81" y="580.05" width="6.40" height="10.05" fill="#d2d2d2"/>
<rect x="621.81" y="581.95" width="4.40" height="7.40" fill="#59A14F"/>
<rect x="627.21" y="586.55" width="6.40" height="3.55" fill="#d2d2d2"/>
<rect x="628.21" y="588.05" width="4.40" height="1.30" fill="#59A14F"/>
<rect x="646.40" y="583.95" width="6.40" height="6.15" fill="#d2d2d2"/>
<rect x="647.40" y="585.85" width="4.40" height="3.50" fill="#59A14F"/>
<rect x="659.19" y="586.55" width="6.40" height="3.55" fill="#d2d2d2"/>
<rect x="660.19" y="588.05" width="4.40" height="1.30" fill="#59A14F"/>
<rect x="665.58" y="572.25" width="6.40" height="17.85" fill="#d2d2d2"/>
<rect x="666.58" y="574.15" width="4.40" height="15.20" fill="#59A14F"/>
<rect x="671.98" y="583.95" width="6.40" height="6.15" fill="#d2d2d2"/>
<rect x="672.98" y="585.85" width="4.40" height="3.50" fill="#59A14F"/>
<rect x="678.38" y="586.55" width="6.40" height="3.55" fill="#d2d2d2"/>
<rect x="679.38" y="588.05" width="4.40" height="1.30" fill="#59A14F"/>
<rect x="684.77" y="567.05" width="6.40" height="23.05" fill="#d2d2d2"/>
<rect x="685.77" y="568.95" width="4.40" height="20.40" fill="#59A14F"/>
<rect x="691.17" y="535.85" width="6.40" height="54.25" fill="#d2d2d2"/>
<rect x="692.17" y="537.75" width="4.40" height="51.60" fill="#59A14F"/>
<rect x="697.57" y="573.55" width="6.40" height="16.55" fill="#d2d2d2"/>
<rect x="698.57" y="575.45" width="4.40" height="12.40" fill="#59A14F"/>
<rect x="703.96" y="560.55" width="6.40" height="29.55" fill="#d2d2d2"/>
<rect x="704.96" y="562.45" width="4.40" height="26.90" fill="#59A14F"/>
<rect x="710.36" y="513.75" width="6.40" height="76.35" fill="#d2d2d2"/>
<rect x="711.36" y="515.65" width="4.40" height="70.90" fill="#59A14F"/>
<rect x="716.76" y="530.65" width="6.40" height="59.45" fill="#d2d2d2"/>
<rect x="717.76" y="532.55" width="4.40" height="55.30" fill="#59A14F"/>
<rect x="723.15" y="580.05" width="6.40" height="10.05" fill="#d2d2d2"/>
<rect x="724.15" y="581.95" width="4.40" height="7.40" fill="#59A14F"/>
<rect x="729.55" y="587.85" width="6.40" height="2.25" fill="#d2d2d2"/>
<rect x="735.94" y="544.95" width="6.40" height="45.15" fill="#d2d2d2"/>
<rect x="736.94" y="546.85" width="4.40" height="42.50" fill="#59A14F"/>
<rect x="742.34" y="569.65" width="6.40" height="20.45" fill="#d2d2d2"/>
<rect x="743.34" y="571.55" width="4.40" height="16.30" fill="#59A14F"/>
<rect x="748.74" y="573.55" width="6.40" height="16.55" fill="#d2d2d2"/>
<rect x="749.74" y="575.45" width="4.40" height="13.90" fill="#59A14F"/>
<rect x="755.13" y="572.25" width="6.40" height="17.85" fill="#d2d2d2"/>
<rect x="756.13" y="574.15" width="4.40" height="15.20" fill="#59A14F"/>
<rect x="767.93" y="582.65" width="6.40" height="7.45" fill="#d2d2d2"/>
<rect x="768.93" y="584.55" width="4.40" height="4.80" fill="#59A14F"/>
<rect x="774.32" y="570.95" width="6.40" height="19.15" fill="#d2d2d2"/>
<rect x="775.32" y="572.85" width="4.40" height="15.00" fill="#59A14F"/>
<rect x="780.72" y="560.55" width="6.40" height="29.55" fill="#d2d2d2"/>
<rect x="781.72" y="562.45" width="4.40" height="26.90" fill="#59A14F"/>
<rect x="787.12" y="576.15" width="6.40" height="13.95" fill="#d2d2d2"/>
<rect x="788.12" y="578.05" width="4.40" height="11.30" fill="#59A14F"/>
<rect x="793.51" y="573.55" width="6.40" height="16.55" fill="#d2d2d2"/>
<rect x="794.51" y="575.45" width="4.40" height="13.90" fill="#59A14F"/>
<rect x="799.91" y="587.85" width="6.40" height="2.25" fill="#d2d2d2"/>
<rect x="806.31" y="582.65" width="6.40" height="7.45" fill="#d2d2d2"/>
<rect x="807.31" y="584.55" width="4.40" height="4.80" fill="#59A14F"/>
<rect x="812.70" y="582.65" width="6.40" height="7.45" fill="#d2d2d2"/>
<rect x="813.70" y="584.55" width="4.40" height="4.80" fill="#59A14F"/>
<rect x="819.10" y="568.35" width="6.40" height="21.75" fill="#d2d2d2"/>
<rect x="820.10" y="570.25" width="4.40" height="17.60" fill="#59A14F"/>
<rect x="825.49" y="587.85" width="6.40" height="2.25" fill="#d2d2d2"/>
<rect x="831.89" y="582.65" width="6.40" height="7.45" fill="#d2d2d2"/>
<rect x="832.89" y="584.55" width="4.40" height="4.80" fill="#59A14F"/>
<rect x="838.29" y="555.35" width="6.40" height="34.75" fill="#d2d2d2"/>
<rect x="839.29" y="557.25" width="4.40" height="32.10" fill="#59A14F"/>
<rect x="844.68" y="582.65" width="6.40" height="7.45" fill="#d2d2d2"/>
<rect x="845.68" y="584.55" width="4.40" height="4.80" fill="#59A14F"/>
<rect x="851.08" y="582.65" width="6.40" height="7.45" fill="#d2d2d2"/>
<rect x="852.08" y="584.55" width="4.40" height="4.80" fill="#59A14F"/>
<rect x="857.48" y="582.65" width="6.40" height="7.45" fill="#d2d2d2"/>
<rect x="858.48" y="584.55" width="4.40" height="4.80" fill="#59A14F"/>
<rect x="863.87" y="577.45" width="6.40" height="12.65" fill="#d2d2d2"/>
<rect x="864.87" y="579.35" width="4.40" height="10.00" fill="#59A14F"/>
<rect x="870.27" y="580.05" width="6.40" height="10.05" fill="#d2d2d2"/>
<rect x="871.27" y="581.95" width="4.40" height="7.40" fill="#59A14F"/>
<rect x="876.67" y="530.65" width="6.40" height="59.45" fill="#d2d2d2"/>
<rect x="877.67" y="584.55" width="4.40" height="4.80" fill="#FABFD2"/>
<rect x="877.67" y="532.55" width="4.40" height="50.10" fill="#59A14F"/>
<rect x="883.06" y="557.95" width="6.40" height="32.15" fill="#d2d2d2"/>
<rect x="884.06" y="559.85" width="4.40" height="28.00" fill="#59A14F"/>
<rect x="889.46" y="521.55" width="6.40" height="68.55" fill="#d2d2d2"/>
<rect x="890.46" y="523.45" width="4.40" height="65.90" fill="#59A14F"/>
<rect x="895.85" y="577.45" width="6.40" height="12.65" fill="#d2d2d2"/>
<rect x="896.85" y="579.35" width="4.40" height="10.00" fill="#59A14F"/>
<rect x="902.25" y="587.85" width="6.40" height="2.25" fill="#d2d2d2"/>
<rect x="908.65" y="587.85" width="6.40" height="2.25" fill="#d2d2d2"/>
<rect x="915.04" y="587.85" width="6.40" height="2.25" fill="#d2d2d2"/>
<rect x="921.44" y="580.05" width="6.40" height="10.05" fill="#d2d2d2"/>
<rect x="922.44" y="581.95" width="4.40" height="7.40" fill="#59A14F"/>
<rect x="927.84" y="560.55" width="6.40" height="29.55" fill="#d2d2d2"/>
<rect x="928.84" y="562.45" width="4.40" height="25.40" fill="#59A14F"/>
<rect x="934.23" y="586.55" width="6.40" height="3.55" fill="#d2d2d2"/>
<rect x="935.23" y="588.05" width="4.40" height="1.30" fill="#59A14F"/>
<rect x="940.63" y="581.35" width="6.40" height="8.75" fill="#d2d2d2"/>
<rect x="941.63" y="583.25" width="4.40" height="6.10" fill="#59A14F"/>
<rect x="947.03" y="564.45" width="6.40" height="25.65" fill="#d2d2d2"/>
<rect x="948.03" y="566.35" width="4.40" height="23.00" fill="#59A14F"/>
<rect x="953.42" y="586.55" width="6.40" height="3.55" fill="#d2d2d2"/>
<rect x="954.42" y="588.05" width="4.40" height="1.30" fill="#59A14F"/>
<rect x="959.82" y="573.55" width="6.40" height="16.55" fill="#d2d2d2"/>
<rect x="960.82" y="575.45" width="4.40" height="13.90" fill="#59A14F"/>
<rect x="966.22" y="573.55" width="6.40" height="16.55" fill="#d2d2d2"/>
<rect x="967.22" y="575.45" width="4.40" height="12.40" fill="#59A14F"/>
<rect x="972.61" y="587.85" width="6.40" height="2.25" fill="#d2d2d2"/>
<rect x="979.01" y="576.15" width="6.40" height="13.95" fill="#d2d2d2"/>
<rect x="980.01" y="578.05" width="4.40" height="11.30" fill="#59A14F"/>
<rect x="985.40" y="582.65" width="6.40" height="7.45" fill="#d2d2d2"/>
<rect x="986.40" y="584.55" width="4.40" height="4.80" fill="#59A14F"/>
<rect x="991.80" y="561.85" width="6.40" height="28.25" fill="#d2d2d2"/>
<rect x="992.80" y="563.75" width="4.40" height="25.60" fill="#59A14F"/>
<rect x="998.20" y="580.05" width="6.40" height="10.05" fill="#d2d2d2"/>
<rect x="999.20" y="581.95" width="4.40" height="7.40" fill="#59A14F"/>
<rect x="1004.59" y="576.15" width="6.40" height="13.95" fill="#d2d2d2"/>
<rect x="1005.59" y="578.05" width="4.40" height="11.30" fill="#59A14F"/>
<rect x="1010.99" y="569.65" width="6.40" height="20.45" fill="#d2d2d2"/>
<rect x="1011.99" y="571.55" width="4.40" height="17.80" fill="#59A14F"/>
<rect x="1017.39" y="578.75" width="6.40" height="11.35" fill="#d2d2d2"/>
<rect x="1018.39" y="580.65" width="4.40" height="7.20" fill="#59A14F"/>
<rect x="1023.78" y="583.95" width="6.40" height="6.15" fill="#d2d2d2"/>
<rect x="1024.78" y="585.85" width="4.40" height="3.50" fill="#59A14F"/>
<rect x="1030.18" y="580.05" width="6.40" height="10.05" fill="#d2d2d2"/>
<rect x="1031.18" y="581.95" width="4.40" height="7.40" fill="#59A14F"/>
<rect x="1036.58" y="580.05" width="6.40" height="10.05" fill="#d2d2d2"/>
<rect x="1037.58" y="581.95" width="4.40" height="7.40" fill="#59A14F"/>
<rect x="1042.97" y="577.45" width="6.40" height="12.65" fill="#d2d2d2"/>
<rect x="1043.97" y="579.35" width="4.40" height="8.50" fill="#59A14F"/>
<rect x="1049.37" y="576.15" width="6.40" height="13.95" fill="#d2d2d2"/>
<rect x="1050.37" y="578.05" width="4.40" height="11.30" fill="#59A14F"/>
<rect x="1055.76" y="580.05" width="6.40" height="10.05" fill="#d2d2d2"/>
<rect x="1056.76" y="581.95" width="4.40" height="7.40" fill="#59A14F"/>
<rect x="1062.16" y="570.95" width="6.40" height="19.15" fill="#d2d2d2"/>
<rect x="1063.16" y="572.85" width="4.40" height="16.50" fill="#59A14F"/>
<rect x="1068.56" y="573.55" width="6.40" height="16.55" fill="#d2d2d2"/>
<rect x="1069.56" y="575.45" width="4.40" height="13.90" fill="#59A14F"/>
<rect x="1074.95" y="580.05" width="6.40" height="10.05" fill="#d2d2d2"/>
<rect x="1075.95" y="581.95" width="4.40" height="7.40" fill="#59A14F"/>
<rect x="1081.35" y="580.05" width="6.40" height="10.05" fill="#d2d2d2"/>
<rect x="1082.35" y="581.95" width="4.40" height="7.40" fill="#59A14F"/>
<rect x="1087.75" y="564.45" width="6.40" height="25.65" fill="#d2d2d2"/>
<rect x="1088.75" y="566.35" width="4.40" height="23.00" fill="#59A14F"/>
<rect x="1094.14" y="570.95" width="6.40" height="19.15" fill="#d2d2d2"/>
<rect x="1095.14" y="572.85" width="4.40" height="16.50" fill="#59A14F"/>
<rect x="1100.54" y="586.55" width="6.40" height="3.55" fill="#d2d2d2"/>
<rect x="1101.54" y="588.05" width="4.40" height="1.30" fill="#59A14F"/>
<rect x="1106.94" y="554.05" width="6.40" height="36.05" fill="#d2d2d2"/>
<rect x="1107.94" y="555.95" width="4.40" height="33.40" fill="#59A14F"/>
<rect x="1113.33" y="570.95" width="6.40" height="19.15" fill="#d2d2d2"/>
<rect x="1114.33" y="572.85" width="4.40" height="16.50" fill="#59A14F"/>
<rect x="1119.73" y="570.95" width="6.40" height="19.15" fill="#d2d2d2"/>
<rect x="1120.73" y="572.85" width="4.40" height="16.50" fill="#59A14F"/>
<rect x="1126.13" y="570.95" width="6.40" height="19.15" fill="#d2d2d2"/>
<rect x="1127.13" y="572.85" width="4.40" height="16.50" fill="#59A14F"/>
<rect x="1132.52" y="570.95" width="6.40" height="19.15" fill="#d2d2d2"/>
<rect x="1133.52" y="572.85" width="4.40" height="15.00" fill="#59A14F"/>
<rect x="1138.92" y="573.55" width="6.40" height="16.55" fill="#d2d2d2"/>
<rect x="1139.92" y="575.45" width="4.40" height="13.90" fill="#59A14F"/>
<rect x="1145.31" y="572.25" width="6.40" height="17.85" fill="#d2d2d2"/>
<rect x="1146.31" y="574.15" width="4.40" height="13.70" fill="#59A14F"/>
<rect x="1151.71" y="580.05" width="6.40" height="10.05" fill="#d2d2d2"/>
<rect x="1152.71" y="581.95" width="4.40" height="7.40" fill="#59A14F"/>
<rect x="1158.11" y="564.45" width="6.40" height="25.65" fill="#d2d2d2"/>
<rect x="1159.11" y="566.35" width="4.40" height="21.50" fill="#59A14F"/>
<rect x="1164.50" y="570.95" width="6.40" height="19.15" fill="#d2d2d2"/>
<rect x="1165.50" y="572.85" width="4.40" height="15.00" fill="#59A14F"/>
<rect x="1170.90" y="580.05" width="6.40" height="10.05" fill="#d2d2d2"/>
<rect x="1171.90" y="581.95" width="4.40" height="7.40" fill="#59A14F"/>
<rect x="1177.30" y="573.55" width="6.40" height="16.55" fill="#d2d2d2"/>
<rect x="1178.30" y="575.45" width="4.40" height="13.90" fill="#59A14F"/>
<rect x="1183.69" y="573.55" width="6.40" height="16.55" fill="#d2d2d2"/>
<rect x="1184.69" y="575.45" width="4.40" height="13.90" fill="#59A14F"/>
<rect x="1190.09" y="559.25" width="6.40" height="30.85" fill="#d2d2d2"/>
<rect x="1191.09" y="561.15" width="4.40" height="26.70" fill="#59A14F"/>
<rect x="1196.49" y="576.15" width="6.40" height="13.95" fill="#d2d2d2"/>
<rect x="1197.49" y="578.05" width="4.40" height="11.30" fill="#59A14F"/>
<rect x="1202.88" y="559.25" width="6.40" height="30.85" fill="#d2d2d2"/>
<rect x="1203.88" y="561.15" width="4.40" height="26.70" fill="#59A14F"/>
<rect x="1209.28" y="580.05" width="6.40" height="10.05" fill="#d2d2d2"/>
<rect x="1210.28" y="581.95" width="4.40" height="7.40" fill="#59A14F"/>
<rect x="1215.67" y="564.45" width="6.40" height="25.65" fill="#d2d2d2"/>
<rect x="1216.67" y="566.35" width="4.40" height="23.00" fill="#59A14F"/>
<rect x="1222.07" y="576.15" width="6.40" height="13.95" fill="#d2d2d2"/>
<rect x="1223.07" y="578.05" width="4.40" height="11.30" fill="#59A14F"/>
<rect x="1234.86" y="582.65" width="6.40" height="7.45" fill="#d2d2d2"/>
<rect x="1235.86" y="584.55" width="4.40" height="4.80" fill="#59A14F"/>
<rect x="1241.26" y="555.35" width="6.40" height="34.75" fill="#d2d2d2"/>
<rect x="1242.26" y="557.25" width="4.40" height="32.10" fill="#59A14F"/>
<rect x="1247.66" y="570.95" width="6.40" height="19.15" fill="#d2d2d2"/>
<rect x="1248.66" y="572.85" width="4.40" height="16.50" fill="#59A14F"/>
<rect x="1254.05" y="555.35" width="6.40" height="34.75" fill="#d2d2d2"/>
<rect x="1255.05" y="557.25" width="4.40" height="32.10" fill="#59A14F"/>
<rect x="1260.45" y="563.15" width="6.40" height="26.95" fill="#d2d2d2"/>
<rect x="1261.45" y="565.05" width="4.40" height="24.30" fill="#59A14F"/>
<rect x="1266.85" y="570.95" width="6.40" height="19.15" fill="#d2d2d2"/>
<rect x="1267.85" y="572.85" width="4.40" height="16.50" fill="#59A14F"/>
<rect x="1273.24" y="570.95" width="6.40" height="19.15" fill="#d2d2d2"/>
<rect x="1274.24" y="572.85" width="4.40" height="16.50" fill="#59A14F"/>
<rect x="1279.64" y="570.95" width="6.40" height="19.15" fill="#d2d2d2"/>
<rect x="1280.64" y="572.85" width="4.40" height="16.50" fill="#59A14F"/>
<rect x="1286.04" y="585.25" width="6.40" height="4.85" fill="#d2d2d2"/>
<rect x="1287.04" y="587.15" width="4.40" height="0.70" fill="#59A14F"/>
<rect x="1292.43" y="583.95" width="6.40" height="6.15" fill="#d2d2d2"/>
<rect x="1293.43" y="585.85" width="4.40" height="3.50" fill="#59A14F"/>
<rect x="1298.83" y="576.15" width="6.40" height="13.95" fill="#d2d2d2"/>
<rect x="1299.83" y="578.05" width="4.40" height="11.30" fill="#59A14F"/>
<rect x="1305.22" y="577.45" width="6.40" height="12.65" fill="#d2d2d2"/>
<rect x="1306.22" y="579.35" width="4.40" height="8.50" fill="#59A14F"/>
<rect x="1311.62" y="573.55" width="6.40" height="16.55" fill="#d2d2d2"/>
<rect x="1312.62" y="575.45" width="4.40" height="13.90" fill="#59A14F"/>
<rect x="1318.02" y="576.15" width="6.40" height="13.95" fill="#d2d2d2"/>
<rect x="1319.02" y="578.05" width="4.40" height="9.80" fill="#59A14F"/>
<rect x="1324.41" y="573.55" width="6.40" height="16.55" fill="#d2d2d2"/>
<rect x="1325.41" y="575.45" width="4.40" height="13.90" fill="#59A14F"/>
<rect x="1330.81" y="573.55" width="6.40" height="16.55" fill="#d2d2d2"/>
<rect x="1331.81" y="575.45" width="4.40" height="13.90" fill="#59A14F"/>
<rect x="1337.21" y="580.05" width="6.40" height="10.05" fill="#d2d2d2"/>
<rect x="1338.21" y="581.95" width="4.40" height="7.40" fill="#59A14F"/>
<rect x="1343.60" y="573.55" width="6.40" height="16.55" fill="#d2d2d2"/>
<rect x="1344.60" y="575.45" width="4.40" height="13.90" fill="#59A14F"/>
<rect x="1350.00" y="580.05" width="6.40" height="10.05" fill="#d2d2d2"/>
<rect x="1351.00" y="581.95" width="4.40" height="7.40" fill="#59A14F"/>
<rect x="1356.40" y="560.55" width="6.40" height="29.55" fill="#d2d2d2"/>
<rect x="1357.40" y="562.45" width="4.40" height="26.90" fill="#59A14F"/>
<rect x="1362.79" y="581.35" width="6.40" height="8.75" fill="#d2d2d2"/>
<rect x="1363.79" y="583.25" width="4.40" height="6.10" fill="#59A14F"/>
<rect x="1369.19" y="567.05" width="6.40" height="23.05" fill="#d2d2d2"/>
<rect x="1370.19" y="568.95" width="4.40" height="20.40" fill="#59A14F"/>
<rect x="1375.58" y="580.05" width="6.40" height="10.05" fill="#d2d2d2"/>
<rect x="1376.58" y="581.95" width="4.40" height="7.40" fill="#59A14F"/>
<rect x="1381.98" y="580.05" width="6.40" height="10.05" fill="#d2d2d2"/>
<rect x="1382.98" y="581.95" width="4.40" height="7.40" fill="#59A14F"/>
<rect x="1388.38" y="570.95" width="6.40" height="19.15" fill="#d2d2d2"/>
<rect x="1389.38" y="572.85" width="4.40" height="16.50" fill="#59A14F"/>
<rect x="1394.77" y="567.05" width="6.40" height="23.05" fill="#d2d2d2"/>
<rect x="1395.77" y="568.95" width="4.40" height="20.40" fill="#59A14F"/>
<rect x="1401.17" y="573.55" width="6.40" height="16.55" fill="#d2d2d2"/>
<rect x="1402.17" y="575.45" width="4.40" height="13.90" fill="#59A14F"/>
<rect x="1407.57" y="555.35" width="6.40" height="34.75" fill="#d2d2d2"/>
<rect x="1408.57" y="557.25" width="4.40" height="30.60" fill="#59A14F"/>
<rect x="1413.96" y="572.25" width="6.40" height="17.85" fill="#d2d2d2"/>
<rect x="1414.96" y="574.15" width="4.40" height="15.20" fill="#59A14F"/>
<rect x="1420.36" y="559.25" width="6.40" height="30.85" fill="#d2d2d2"/>
<rect x="1421.36" y="561.15" width="4.40" height="28.20" fill="#59A14F"/>
<rect x="1426.76" y="580.05" width="6.40" height="10.05" fill="#d2d2d2"/>
<rect x="1427.76" y="581.95" width="4.40" height="7.40" fill="#59A14F"/>
<rect x="1433.15" y="570.95" width="6.40" height="19.15" fill="#d2d2d2"/>
<rect x="1434.15" y="572.85" width="4.40" height="15.00" fill="#59A14F"/>
<rect x="1439.55" y="576.15" width="6.40" height="13.95" fill="#d2d2d2"/>
<rect x="1440.55" y="578.05" width="4.40" height="11.30" fill="#59A14F"/>
<rect x="1445.95" y="555.35" width="6.40" height="34.75" fill="#d2d2d2"/>
<rect x="1446.95" y="557.25" width="4.40" height="32.10" fill="#59A14F"/>
<rect x="1452.34" y="563.15" width="6.40" height="26.95" fill="#d2d2d2"/>
<rect x="1453.34" y="565.05" width="4.40" height="24.30" fill="#59A14F"/>
<rect x="1458.74" y="587.15" width="6.40" height="2.95" fill="#d2d2d2"/>
<rect x="1459.74" y="588.05" width="4.40" height="1.30" fill="#59A14F"/>
<rect x="1465.13" y="580.05" width="6.40" height="10.05" fill="#d2d2d2"/>
<rect x="1466.13" y="581.95" width="4.40" height="7.40" fill="#59A14F"/>
<rect x="1471.53" y="576.15" width="6.40" height="13.95" fill="#d2d2d2"/>
<rect x="1472.53" y="578.05" width="4.40" height="11.30" fill="#59A14F"/>
<rect x="1477.93" y="582.65" width="6.40" height="7.45" fill="#d2d2d2"/>
<rect x="1478.93" y="584.55" width="4.40" height="4.80" fill="#59A14F"/>
<rect x="1484.32" y="560.55" width="6.40" height="29.55" fill="#d2d2d2"/>
<rect x="1485.32" y="562.45" width="4.40" height="26.90" fill="#59A14F"/>
<rect x="1490.72" y="583.95" width="6.40" height="6.15" fill="#d2d2d2"/>
<rect x="1491.72" y="585.85" width="4.40" height="3.50" fill="#59A14F"/>
<rect x="1497.12" y="551.45" width="6.40" height="38.65" fill="#d2d2d2"/>
<rect x="1498.12" y="553.35" width="4.40" height="36.00" fill="#59A14F"/>
<rect x="1503.51" y="503.35" width="6.40" height="86.75" fill="#d2d2d2"/>
<rect x="1504.51" y="505.25" width="4.40" height="84.10" fill="#59A14F"/>
<rect x="1509.91" y="499.45" width="6.40" height="90.65" fill="#d2d2d2"/>
<rect x="1510.91" y="501.35" width="4.40" height="88.00" fill="#59A14F"/>
<rect x="1516.31" y="567.05" width="6.40" height="23.05" fill="#d2d2d2"/>
<rect x="1517.31" y="568.95" width="4.40" height="20.40" fill="#59A14F"/>
<rect x="1522.70" y="560.55" width="6.40" height="29.55" fill="#d2d2d2"/>
<rect x="1523.70" y="562.45" width="4.40" height="26.90" fill="#59A14F"/>
<rect x="1529.10" y="550.15" width="6.40" height="39.95" fill="#d2d2d2"/>
<rect x="1530.10" y="552.05" width="4.40" height="37.30" fill="#59A14F"/>
<rect x="1535.49" y="580.05" width="6.40" height="10.05" fill="#d2d2d2"/>
<rect x="1536.49" y="581.95" width="4.40" height="7.40" fill="#59A14F"/>
<rect x="1541.89" y="564.45" width="6.40" height="25.65" fill="#d2d2d2"/>
<rect x="1542.89" y="566.35" width="4.40" height="21.50" fill="#59A14F"/>
<rect x="1548.29" y="563.15" width="6.40" height="26.95" fill="#d2d2d2"/>
<rect x="1549.29" y="565.05" width="4.40" height="24.30" fill="#59A14F"/>
<rect x="1554.68" y="551.45" width="6.40" height="38.65" fill="#d2d2d2"/>
<rect x="1555.68" y="553.35" width="4.40" height="36.00" fill="#59A14F"/>
<rect x="1561.08" y="537.15" width="6.40" height="52.95" fill="#d2d2d2"/>
<rect x="1562.08" y="539.05" width="4.40" height="50.30" fill="#59A14F"/>
<rect x="1567.48" y="539.75" width="6.40" height="50.35" fill="#d2d2d2"/>
<rect x="1568.48" y="541.65" width="4.40" height="47.70" fill="#59A14F"/>
<rect x="1573.87" y="526.75" width="6.40" height="63.35" fill="#d2d2d2"/>
<rect x="1574.87" y="528.65" width="4.40" height="60.70" fill="#59A14F"/>
<rect x="1580.27" y="577.45" width="6.40" height="12.65" fill="#d2d2d2"/>
<rect x="1581.27" y="579.35" width="4.40" height="8.50" fill="#59A14F"/>
<rect x="1586.67" y="582.65" width="6.40" height="7.45" fill="#d2d2d2"/>
<rect x="1587.67" y="584.55" width="4.40" height="4.80" fill="#59A14F"/>
<rect x="1593.06" y="582.65" width="6.40" height="7.45" fill="#d2d2d2"/>
<rect x="1594.06" y="584.55" width="4.40" height="4.80" fill="#59A14F"/>
<rect x="1599.46" y="570.95" width="6.40" height="19.15" fill="#d2d2d2"/>
<rect x="1600.46" y="572.85" width="4.40" height="16.50" fill="#59A14F"/>
<line x1="310.7" y1="71" x2="310.7" y2="108" stroke="#cfcfcf" stroke-width="1.5"/>
<line x1="310.3" y1="108" x2="310.3" y2="590.5" stroke="#e4e4e4" stroke-width="1.5"/>
<line x1="310.5" y1="591" x2="310.5" y2="684" stroke="#cdcdcd" stroke-width="1.5"/>
<line x1="0" y1="108.2" x2="310" y2="108.2" stroke="#cbcbcb" stroke-width="1.5"/>
<line x1="311" y1="107.8" x2="1667" y2="107.8" stroke="#e0e0e0" stroke-width="1.5"/>
<line x1="0" y1="204.8" x2="310" y2="204.8" stroke="#cacaca" stroke-width="1.5"/>
<line x1="310" y1="203.9" x2="1667" y2="203.9" stroke="#cacaca" stroke-width="1.5"/>
<line x1="0" y1="301.66" x2="310" y2="301.66" stroke="#cacaca" stroke-width="1.5"/>
<line x1="310" y1="300.8" x2="1667" y2="300.8" stroke="#cacaca" stroke-width="1.5"/>
<line x1="0" y1="397.5" x2="310" y2="397.5" stroke="#cacaca" stroke-width="1.5"/>
<line x1="310" y1="396.7" x2="1667" y2="396.7" stroke="#cacaca" stroke-width="1.5"/>
<line x1="0" y1="494.5" x2="310" y2="494.5" stroke="#cacaca" stroke-width="1.5"/>
<line x1="310" y1="493.9" x2="1667" y2="493.9" stroke="#cacaca" stroke-width="1.5"/>
<line x1="0" y1="591.2" x2="310" y2="591.2" stroke="#cacaca" stroke-width="1.5"/>
<line x1="310" y1="590.1" x2="1667" y2="590.1" stroke="#cacaca" stroke-width="1.5"/>
<line x1="1667.3" y1="71" x2="1667.3" y2="590.8" stroke="#cbcbcb" stroke-width="1.7"/>
<line x1="1668.6" y1="592.4" x2="1668.6" y2="682.5" stroke="#cdcdcd" stroke-width="1.5"/>
<text x="10.75" y="162.05" font-family="Liberation Sans, sans-serif" font-size="22.5" fill="#666666" textLength="176.01" lengthAdjust="spacingAndGlyphs">centralasia.media</text>
<text x="0" y="0" transform="translate(245.2,182.83) rotate(-90)" font-family="Liberation Sans, sans-serif" font-size="22" fill="#333333" textLength="57.77" lengthAdjust="spacingAndGlyphs">Count</text>
<text x="272.93" y="129.60" font-family="Liberation Sans, sans-serif" font-size="21.3" fill="#666666" textLength="23.87" lengthAdjust="spacingAndGlyphs">20</text>
<text x="273.96" y="169.70" font-family="Liberation Sans, sans-serif" font-size="21.3" fill="#666666" textLength="22.80" lengthAdjust="spacingAndGlyphs">10</text>
<text x="11.11" y="258.80" font-family="Liberation Sans, sans-serif" font-size="22.5" fill="#666666" textLength="151.27" lengthAdjust="spacingAndGlyphs">protonvpn.com</text>
<text x="0" y="0" transform="translate(245.2,279.23) rotate(-90)" font-family="Liberation Sans, sans-serif" font-size="22" fill="#333333" textLength="57.77" lengthAdjust="spacingAndGlyphs">Count</text>
<text x="272.93" y="226.00" font-family="Liberation Sans, sans-serif" font-size="21.3" fill="#666666" textLength="23.87" lengthAdjust="spacingAndGlyphs">20</text>
<text x="273.96" y="262.50" font-family="Liberation Sans, sans-serif" font-size="21.3" fill="#666666" textLength="22.80" lengthAdjust="spacingAndGlyphs">10</text>
<text x="284.73" y="293.40" font-family="Liberation Sans, sans-serif" font-size="21.3" fill="#666666" textLength="12.05" lengthAdjust="spacingAndGlyphs">0</text>
<text x="10.90" y="355.06" font-family="Liberation Sans, sans-serif" font-size="22.5" fill="#666666" textLength="147.84" lengthAdjust="spacingAndGlyphs">rus.azattyq.org</text>
<text x="0" y="0" transform="translate(245.2,375.53) rotate(-90)" font-family="Liberation Sans, sans-serif" font-size="22" fill="#333333" textLength="57.77" lengthAdjust="spacingAndGlyphs">Count</text>
<text x="273.18" y="346.30" font-family="Liberation Sans, sans-serif" font-size="21.3" fill="#666666" textLength="23.62" lengthAdjust="spacingAndGlyphs">40</text>
<text x="272.93" y="375.10" font-family="Liberation Sans, sans-serif" font-size="21.3" fill="#666666" textLength="23.87" lengthAdjust="spacingAndGlyphs">20</text>
<text x="11.30" y="452.06" font-family="Liberation Sans, sans-serif" font-size="22.5" fill="#666666" textLength="163.79" lengthAdjust="spacingAndGlyphs">www.azattyq.org</text>
<text x="0" y="0" transform="translate(245.2,471.93) rotate(-90)" font-family="Liberation Sans, sans-serif" font-size="22" fill="#333333" textLength="57.77" lengthAdjust="spacingAndGlyphs">Count</text>
<text x="273.18" y="433.60" font-family="Liberation Sans, sans-serif" font-size="21.3" fill="#666666" textLength="23.62" lengthAdjust="spacingAndGlyphs">40</text>
<text x="272.93" y="466.60" font-family="Liberation Sans, sans-serif" font-size="21.3" fill="#666666" textLength="23.87" lengthAdjust="spacingAndGlyphs">20</text>
<text x="11.30" y="548.50" font-family="Liberation Sans, sans-serif" font-size="22.5" fill="#666666" textLength="192.65" lengthAdjust="spacingAndGlyphs">www.currenttime.tv</text>
<text x="0" y="0" transform="translate(245.2,568.23) rotate(-90)" font-family="Liberation Sans, sans-serif" font-size="22" fill="#333333" textLength="57.77" lengthAdjust="spacingAndGlyphs">Count</text>
<text x="273.18" y="544.50" font-family="Liberation Sans, sans-serif" font-size="21.3" fill="#666666" textLength="23.62" lengthAdjust="spacingAndGlyphs">40</text>
<text x="284.73" y="583.00" font-family="Liberation Sans, sans-serif" font-size="21.3" fill="#666666" textLength="12.05" lengthAdjust="spacingAndGlyphs">0</text>
<line x1="370.75" y1="591" x2="370.75" y2="599" stroke="#e2e2e2" stroke-width="1.2"/>
<text x="328.84" y="623.50" font-family="Liberation Sans, sans-serif" font-size="22" fill="#666666" textLength="81.82" lengthAdjust="spacingAndGlyphs">Oct 1, 22</text>
<line x1="569.04" y1="591" x2="569.04" y2="599" stroke="#e2e2e2" stroke-width="1.2"/>
<text x="525.19" y="623.50" font-family="Liberation Sans, sans-serif" font-size="22" fill="#666666" textLength="86.23" lengthAdjust="spacingAndGlyphs">Nov 1, 22</text>
<line x1="760.93" y1="591" x2="760.93" y2="599" stroke="#e2e2e2" stroke-width="1.2"/>
<text x="716.81" y="623.50" font-family="Liberation Sans, sans-serif" font-size="22" fill="#666666" textLength="85.19" lengthAdjust="spacingAndGlyphs">Dec 1, 22</text>
<line x1="959.22" y1="591" x2="959.22" y2="599" stroke="#e2e2e2" stroke-width="1.2"/>
<text x="918.51" y="623.50" font-family="Liberation Sans, sans-serif" font-size="22" fill="#666666" textLength="79.85" lengthAdjust="spacingAndGlyphs">Jan 1, 23</text>
<line x1="1157.51" y1="591" x2="1157.51" y2="599" stroke="#e2e2e2" stroke-width="1.2"/>
<text x="1114.19" y="623.50" font-family="Liberation Sans, sans-serif" font-size="22" fill="#666666" textLength="84.91" lengthAdjust="spacingAndGlyphs">Feb 1, 23</text>
<line x1="1336.61" y1="591" x2="1336.61" y2="599" stroke="#e2e2e2" stroke-width="1.2"/>
<text x="1291.23" y="623.50" font-family="Liberation Sans, sans-serif" font-size="22" fill="#666666" textLength="87.98" lengthAdjust="spacingAndGlyphs">Mar 1, 23</text>
<line x1="1534.89" y1="591" x2="1534.89" y2="599" stroke="#e2e2e2" stroke-width="1.2"/>
<text x="1493.60" y="623.50" font-family="Liberation Sans, sans-serif" font-size="22" fill="#666666" textLength="81.57" lengthAdjust="spacingAndGlyphs">Apr 1, 23</text>
<text x="831.83" y="663.20" font-family="Liberation Sans, sans-serif" font-size="22" fill="#333333" textLength="313.21" lengthAdjust="spacingAndGlyphs">Day of Measurement Start Time</text>
<text x="1691.20" y="94.50" font-family="Liberation Sans, sans-serif" font-size="22" fill="#333333" textLength="80.93" lengthAdjust="spacingAndGlyphs">Analysis</text>
<rect x="1697.4" y="108.70" width="20.4" height="19.8" fill="#59A14F" stroke="#d2d2d2" stroke-width="1.8"/>
<text x="1729.12" y="125.30" font-family="Liberation Sans, sans-serif" font-size="22" fill="#333333" textLength="23.31" lengthAdjust="spacingAndGlyphs">ok</text>
<rect x="1697.4" y="145.10" width="20.4" height="19.8" fill="#FF9D9A" stroke="#d2d2d2" stroke-width="1.8"/>
<text x="1729.66" y="161.75" font-family="Liberation Sans, sans-serif" font-size="22" fill="#333333" textLength="260.00" lengthAdjust="spacingAndGlyphs">tcp.generic_timeout_error</text>
<rect x="1697.4" y="181.50" width="20.4" height="19.8" fill="#D37295" stroke="#d2d2d2" stroke-width="1.8"/>
<text x="1729.66" y="198.20" font-family="Liberation Sans, sans-serif" font-size="22" fill="#333333" textLength="137.84" lengthAdjust="spacingAndGlyphs">tcp.timed_out</text>
<rect x="1697.4" y="217.90" width="20.4" height="19.8" fill="#FABFD2" stroke="#d2d2d2" stroke-width="1.8"/>
<text x="1729.66" y="234.65" font-family="Liberation Sans, sans-serif" font-size="22" fill="#333333" textLength="203.27" lengthAdjust="spacingAndGlyphs">tcp.unknown_failure</text>
<rect x="1697.4" y="254.30" width="20.4" height="19.8" fill="#D7B5A6" stroke="#d2d2d2" stroke-width="1.8"/>
<text x="1729.66" y="271.10" font-family="Liberation Sans, sans-serif" font-size="22" fill="#333333" textLength="122.60" lengthAdjust="spacingAndGlyphs">tls.eof_error</text>
<rect x="1697.4" y="290.70" width="20.4" height="19.8" fill="#4E79A7" stroke="#d2d2d2" stroke-width="1.8"/>
<text x="1729.66" y="307.55" font-family="Liberation Sans, sans-serif" font-size="22" fill="#333333" textLength="253.31" lengthAdjust="spacingAndGlyphs">tls.generic_timeout_error</text>
<rect x="1697.4" y="327.10" width="20.4" height="19.8" fill="#A0CBE8" stroke="#d2d2d2" stroke-width="1.8"/>
<text x="1729.66" y="344.00" font-family="Liberation Sans, sans-serif" font-size="22" fill="#333333" textLength="178.09" lengthAdjust="spacingAndGlyphs">tls.not_connected</text>
<rect x="1697.4" y="363.50" width="20.4" height="19.8" fill="#FFBE7D" stroke="#d2d2d2" stroke-width="1.8"/>
<text x="1729.65" y="380.45" font-family="Liberation Sans, sans-serif" font-size="22" fill="#333333" textLength="131.57" lengthAdjust="spacingAndGlyphs">tls.timed_out</text>
<rect x="0" y="685" width="1999" height="1" fill="#000000"/>
</svg>
</body></html>
